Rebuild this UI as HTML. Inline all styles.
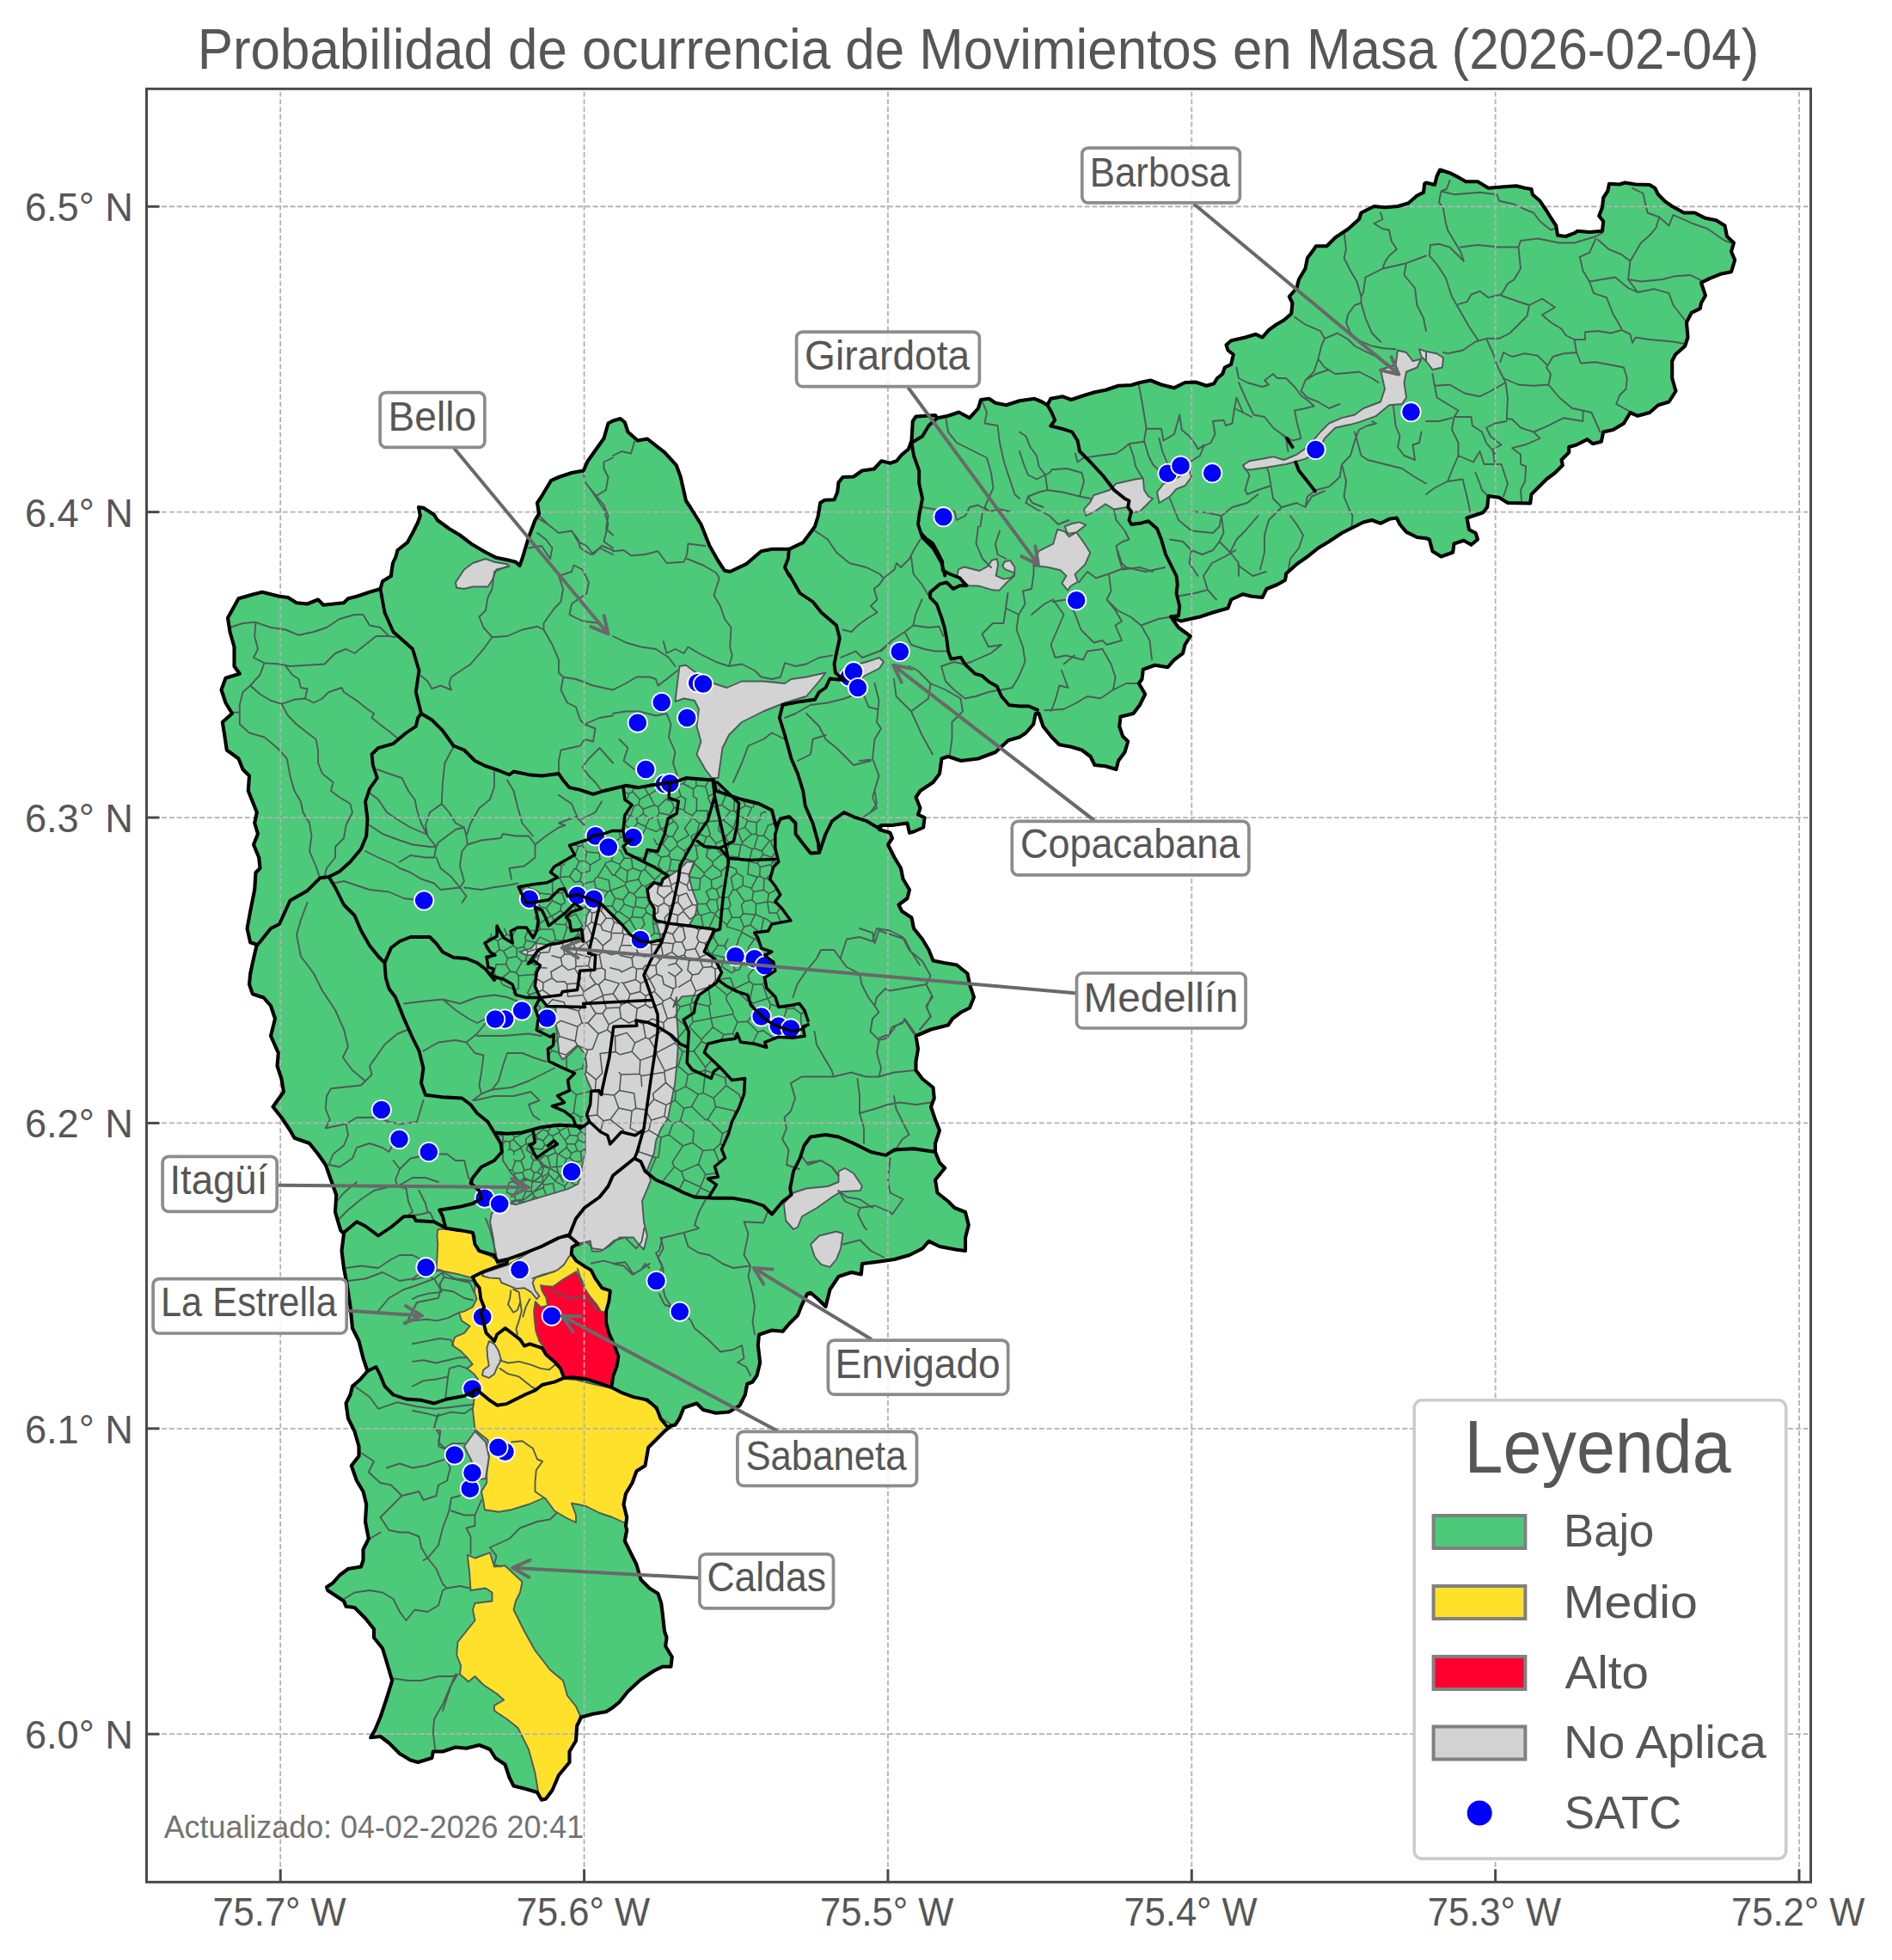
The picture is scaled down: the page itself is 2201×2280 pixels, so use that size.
<!DOCTYPE html><html><head><meta charset="utf-8"><title>Mapa</title><style>html,body{margin:0;padding:0;background:#fff}svg{display:block}text{font-family:"Liberation Sans",sans-serif;fill:#565656}</style></head><body>
<svg width="2201" height="2280" viewBox="0 0 2201 2280">
<rect width="2201" height="2280" fill="#fff"/>
<g stroke-linejoin="round" stroke-linecap="round">
<path d="M455.5,665.0 L457.0,655.0 L460.5,647.5 L462.5,640.0 L473.8,631.2 L480.0,620.0 L486.2,607.5 L488.8,600.0 L487.0,590.0 L492.5,590.8 L505.0,598.8 L508.8,605.0 L522.5,615.0 L535.0,622.5 L550.0,633.8 L565.0,642.5 L577.5,648.8 L590.0,651.2 L600.0,653.8 L604.5,658.0 L607.5,650.0 L615.0,625.0 L622.5,605.0 L627.0,597.5 L625.0,585.0 L630.0,577.5 L641.2,558.8 L650.0,555.0 L665.0,550.0 L678.8,547.5 L683.8,536.2 L702.5,510.0 L707.5,492.5 L713.0,489.5 L721.8,487.0 L726.8,491.2 L730.5,502.5 L741.8,512.5 L753.0,510.5 L773.0,526.2 L786.8,541.2 L791.8,555.0 L798.0,582.5 L803.0,590.0 L815.5,610.0 L825.5,635.0 L835.5,652.5 L843.0,663.8 L849.2,665.0 L868.0,656.2 L885.5,641.2 L898.0,638.8 L918.0,638.8 L934.2,631.2 L948.0,612.5 L951.8,600.0 L954.2,585.0 L959.2,581.8 L970.5,581.2 L974.2,572.5 L975.5,561.2 L980.5,555.0 L993.0,554.5 L1003.0,547.5 L1016.8,545.5 L1025.5,536.2 L1035.5,538.8 L1043.0,536.2 L1049.2,528.8 L1056.8,522.5 L1060.5,512.5 L1061.8,490.0 L1065.5,484.5 L1088.0,483.0 L1090.5,486.2 L1103.0,483.8 L1115.5,479.5 L1128.0,486.2 L1138.0,475.0 L1141.0,465.0 L1150.5,463.8 L1158.0,468.8 L1170.5,471.2 L1186.0,466.2 L1203.5,463.8 L1212.2,467.5 L1218.5,471.2 L1222.2,463.8 L1236.0,461.2 L1246.0,465.0 L1261.0,460.0 L1273.5,456.2 L1286.0,453.8 L1301.0,448.8 L1316.0,448.0 L1326.0,445.0 L1338.5,442.5 L1351.0,447.5 L1366.0,451.2 L1378.5,445.0 L1391.0,444.5 L1403.5,448.8 L1412.2,446.2 L1416.0,440.0 L1422.2,435.0 L1424.8,427.5 L1432.2,423.8 L1434.8,412.5 L1428.5,407.5 L1426.5,401.2 L1432.2,396.2 L1448.5,392.5 L1461.0,388.8 L1468.5,392.5 L1476.0,383.8 L1484.8,377.5 L1493.5,372.5 L1502.2,365.0 L1503.5,352.5 L1499.8,345.0 L1508.5,335.0 L1511.0,325.0 L1518.5,312.5 L1521.0,300.0 L1528.5,290.0 L1531.0,286.2 L1543.5,286.2 L1553.5,276.2 L1568.5,266.2 L1581.0,255.0 L1583.5,247.5 L1598.5,240.0 L1611.0,241.2 L1626.0,240.0 L1638.5,236.2 L1648.5,227.5 L1656.0,223.8 L1657.2,213.8 L1659.0,212.5 L1669.0,215.0 L1671.5,205.0 L1675.2,197.5 L1686.5,201.2 L1696.5,206.2 L1705.2,211.2 L1719.0,211.2 L1731.5,218.8 L1746.5,217.5 L1764.0,216.2 L1774.0,218.8 L1781.5,220.0 L1782.8,226.2 L1791.5,233.8 L1799.0,245.0 L1805.2,255.0 L1810.2,262.5 L1812.0,273.8 L1821.5,275.0 L1831.5,271.2 L1835.2,268.8 L1849.0,270.0 L1864.0,268.8 L1865.2,257.5 L1860.2,251.2 L1864.0,241.2 L1865.2,230.0 L1870.2,222.5 L1872.0,213.8 L1884.0,214.5 L1890.2,212.5 L1902.8,214.5 L1919.0,215.0 L1925.2,218.8 L1929.0,226.2 L1936.5,233.8 L1945.2,240.0 L1959.0,247.5 L1971.5,247.5 L1984.0,253.8 L1996.5,256.2 L2006.5,262.5 L2009.0,275.0 L2017.0,282.5 L2014.0,292.5 L2018.2,302.5 L2014.0,316.2 L2001.5,318.8 L1989.0,323.8 L1979.0,328.8 L1984.0,343.8 L1979.0,352.5 L1977.8,358.8 L1967.8,363.8 L1962.0,375.0 L1963.5,392.5 L1960.2,402.5 L1949.0,412.5 L1945.2,420.0 L1945.2,440.0 L1949.5,455.0 L1941.5,467.5 L1929.0,471.2 L1919.0,480.0 L1905.2,483.8 L1896.5,480.0 L1889.0,492.5 L1876.5,500.0 L1865.2,502.5 L1862.8,513.8 L1852.8,516.2 L1846.5,511.2 L1834.0,517.5 L1825.2,520.0 L1825.2,526.2 L1816.5,535.0 L1817.8,541.2 L1809.0,550.0 L1799.0,557.5 L1789.0,567.5 L1781.5,575.0 L1780.2,585.5 L1754.0,585.0 L1744.0,578.8 L1731.5,577.0 L1730.2,590.0 L1725.2,596.2 L1706.5,602.5 L1709.0,616.2 L1716.5,620.0 L1719.0,627.5 L1711.5,633.8 L1702.8,628.8 L1691.5,632.5 L1690.2,642.5 L1676.5,647.5 L1666.5,641.2 L1662.8,627.5 L1659.0,626.2 L1648.5,625.0 L1636.0,618.8 L1628.5,610.0 L1624.8,602.5 L1616.0,603.8 L1606.0,608.8 L1596.0,605.0 L1586.0,607.5 L1576.0,612.5 L1561.0,620.0 L1546.0,630.0 L1533.5,637.5 L1521.0,647.5 L1508.5,656.2 L1496.0,667.5 L1496.0,670.0 L1494.8,675.0 L1486.0,680.0 L1473.5,685.0 L1468.5,695.0 L1456.0,693.8 L1446.0,691.2 L1432.2,697.5 L1428.5,707.5 L1411.0,712.5 L1396.0,717.5 L1373.5,722.5 L1362.2,717.5 L1371.0,730.0 L1384.8,740.0 L1378.5,750.0 L1376.0,760.0 L1366.0,767.5 L1358.5,776.2 L1343.5,773.8 L1329.8,778.8 L1328.5,790.0 L1324.8,795.0 L1332.2,807.5 L1326.0,820.0 L1318.5,830.0 L1303.5,833.8 L1302.2,845.0 L1306.0,856.2 L1312.2,862.5 L1308.5,875.0 L1301.0,885.0 L1298.5,895.0 L1286.0,891.2 L1273.5,890.0 L1268.5,880.0 L1258.5,872.5 L1246.0,868.8 L1232.2,866.2 L1223.5,857.5 L1213.5,845.0 L1208.5,830.0 L1204.8,830.0 L1202.2,842.5 L1193.5,852.5 L1186.0,857.5 L1173.0,861.2 L1158.0,875.0 L1138.0,882.5 L1118.0,885.0 L1103.0,880.0 L1095.5,882.5 L1093.0,900.0 L1085.5,910.0 L1070.5,920.0 L1065.5,927.5 L1070.5,940.0 L1068.0,947.5 L1075.5,951.2 L1074.2,962.5 L1063.0,967.5 L1058.0,968.8 L1055.5,957.5 L1038.0,960.0 L1025.5,960.0 L1023.0,965.0 L1035.5,968.8 L1038.0,975.0 L1033.0,982.5 L1040.5,997.5 L1048.0,1010.0 L1050.5,1022.5 L1058.0,1035.0 L1055.5,1045.0 L1045.5,1052.5 L1049.2,1060.0 L1060.5,1067.5 L1063.0,1080.0 L1073.0,1092.5 L1080.5,1105.0 L1085.5,1117.5 L1098.0,1120.0 L1113.0,1122.5 L1125.5,1132.5 L1128.0,1145.0 L1133.0,1160.0 L1133.0,1160.0 L1128.0,1172.5 L1118.0,1177.5 L1108.0,1185.0 L1103.0,1192.5 L1083.0,1197.5 L1065.5,1205.0 L1068.0,1220.0 L1065.5,1235.0 L1065.5,1245.0 L1073.0,1255.0 L1085.5,1265.0 L1086.8,1277.5 L1083.0,1287.5 L1088.0,1302.5 L1093.0,1315.0 L1088.0,1330.0 L1088.0,1340.0 L1093.0,1352.5 L1099.2,1358.8 L1088.0,1372.5 L1090.5,1387.5 L1103.0,1397.5 L1110.5,1405.0 L1123.0,1410.0 L1126.8,1425.0 L1123.0,1440.0 L1123.0,1455.0 L1113.0,1453.8 L1093.0,1450.0 L1080.5,1443.8 L1073.0,1452.5 L1058.0,1460.0 L1040.5,1465.0 L1023.0,1467.5 L1003.0,1470.0 L1001.8,1482.5 L990.5,1480.0 L975.5,1485.0 L965.5,1500.0 L960.5,1520.0 L953.0,1512.5 L943.0,1503.8 L939.2,1505.0 L933.0,1517.5 L928.0,1530.0 L918.0,1540.0 L910.5,1548.8 L898.0,1547.5 L883.0,1552.5 L881.8,1565.0 L884.2,1585.0 L880.5,1600.0 L875.5,1607.5 L869.2,1610.0 L866.8,1622.5 L860.5,1635.0 L848.0,1642.5 L833.0,1643.8 L818.0,1640.0 L810.5,1632.5 L795.5,1637.5 L790.5,1650.0 L790.5,1650.0 L785.5,1657.5 L780.5,1658.8 L773.0,1665.0 L763.0,1675.0 L754.2,1683.8 L750.5,1705.0 L740.5,1711.2 L735.5,1725.0 L728.0,1737.5 L725.5,1750.0 L729.2,1765.0 L728.0,1775.0 L729.2,1780.0 L726.8,1792.5 L733.0,1805.0 L740.5,1820.0 L745.5,1837.5 L755.5,1847.5 L765.5,1853.8 L769.2,1865.0 L770.5,1875.0 L773.0,1897.5 L775.5,1905.0 L774.2,1915.0 L781.8,1927.5 L780.5,1938.8 L770.5,1938.8 L760.5,1943.8 L745.5,1953.8 L730.5,1967.5 L720.5,1980.0 L713.0,1986.2 L713.0,1986.2 L705.0,1991.2 L690.0,1993.8 L676.2,1997.5 L671.2,2007.5 L670.0,2025.0 L662.5,2037.5 L662.5,2050.0 L650.0,2065.0 L642.5,2082.5 L635.0,2092.5 L630.0,2093.8 L625.0,2085.0 L612.5,2081.2 L597.5,2077.5 L592.5,2067.5 L587.5,2052.5 L576.2,2045.0 L570.0,2035.0 L557.5,2030.0 L542.5,2033.8 L530.0,2032.5 L515.0,2037.5 L503.8,2037.5 L502.5,2045.0 L486.2,2050.0 L477.5,2047.5 L465.0,2040.0 L452.5,2027.5 L442.5,2020.0 L431.2,2021.2 L436.2,2012.5 L442.5,1997.5 L450.0,1975.0 L456.2,1955.0 L448.8,1930.0 L445.0,1917.5 L435.0,1905.0 L435.0,1895.0 L425.0,1882.5 L412.5,1870.0 L402.5,1868.8 L400.0,1862.5 L381.2,1850.0 L380.0,1846.2 L387.5,1841.2 L395.0,1832.5 L405.0,1825.0 L420.0,1822.5 L422.5,1815.0 L422.5,1802.5 L428.8,1790.0 L425.0,1770.0 L426.2,1750.0 L422.5,1735.0 L415.0,1722.5 L408.8,1705.0 L417.5,1693.8 L417.5,1682.5 L412.5,1665.0 L405.0,1650.0 L405.0,1650.0 L402.5,1632.5 L407.5,1622.5 L410.0,1612.5 L418.8,1605.0 L427.5,1595.0 L422.5,1580.0 L417.5,1560.0 L410.0,1545.0 L407.5,1520.0 L403.8,1495.0 L400.0,1475.0 L397.5,1455.0 L400.0,1435.0 L396.2,1431.2 L390.0,1410.0 L391.2,1390.0 L385.0,1372.5 L378.8,1355.0 L370.0,1342.5 L360.0,1330.0 L342.5,1323.8 L337.5,1315.0 L327.5,1300.0 L317.5,1287.5 L330.0,1270.0 L327.5,1255.0 L322.5,1240.0 L323.8,1225.0 L315.0,1205.0 L320.0,1185.0 L315.0,1170.0 L306.2,1160.0 L305.0,1160.0 L293.8,1156.2 L290.0,1145.0 L291.2,1132.5 L295.0,1115.0 L298.8,1098.8 L291.2,1096.2 L287.5,1080.0 L291.2,1060.0 L296.2,1035.0 L297.5,1015.0 L302.5,1010.0 L301.2,997.5 L295.0,982.5 L300.0,970.0 L296.2,957.5 L298.8,945.0 L293.8,932.5 L288.8,920.0 L290.0,902.5 L282.5,895.0 L277.5,882.5 L263.8,872.5 L261.2,855.0 L258.8,840.0 L270.0,830.0 L262.5,817.5 L257.5,802.5 L262.5,788.8 L278.8,783.8 L272.5,775.0 L272.5,752.5 L267.5,735.0 L265.0,718.8 L277.5,696.2 L295.0,691.2 L305.0,688.8 L325.0,693.8 L335.0,695.0 L345.0,701.2 L357.5,702.5 L370.0,697.5 L376.2,703.8 L400.0,701.2 L405.0,696.2 L415.0,693.8 L430.0,688.8 L442.5,685.0 L445.0,676.2 L455.0,670.0Z" fill="#4dc97a" stroke="none"/>
<clipPath id="mapclip"><path d="M455.5,665.0 L457.0,655.0 L460.5,647.5 L462.5,640.0 L473.8,631.2 L480.0,620.0 L486.2,607.5 L488.8,600.0 L487.0,590.0 L492.5,590.8 L505.0,598.8 L508.8,605.0 L522.5,615.0 L535.0,622.5 L550.0,633.8 L565.0,642.5 L577.5,648.8 L590.0,651.2 L600.0,653.8 L604.5,658.0 L607.5,650.0 L615.0,625.0 L622.5,605.0 L627.0,597.5 L625.0,585.0 L630.0,577.5 L641.2,558.8 L650.0,555.0 L665.0,550.0 L678.8,547.5 L683.8,536.2 L702.5,510.0 L707.5,492.5 L713.0,489.5 L721.8,487.0 L726.8,491.2 L730.5,502.5 L741.8,512.5 L753.0,510.5 L773.0,526.2 L786.8,541.2 L791.8,555.0 L798.0,582.5 L803.0,590.0 L815.5,610.0 L825.5,635.0 L835.5,652.5 L843.0,663.8 L849.2,665.0 L868.0,656.2 L885.5,641.2 L898.0,638.8 L918.0,638.8 L934.2,631.2 L948.0,612.5 L951.8,600.0 L954.2,585.0 L959.2,581.8 L970.5,581.2 L974.2,572.5 L975.5,561.2 L980.5,555.0 L993.0,554.5 L1003.0,547.5 L1016.8,545.5 L1025.5,536.2 L1035.5,538.8 L1043.0,536.2 L1049.2,528.8 L1056.8,522.5 L1060.5,512.5 L1061.8,490.0 L1065.5,484.5 L1088.0,483.0 L1090.5,486.2 L1103.0,483.8 L1115.5,479.5 L1128.0,486.2 L1138.0,475.0 L1141.0,465.0 L1150.5,463.8 L1158.0,468.8 L1170.5,471.2 L1186.0,466.2 L1203.5,463.8 L1212.2,467.5 L1218.5,471.2 L1222.2,463.8 L1236.0,461.2 L1246.0,465.0 L1261.0,460.0 L1273.5,456.2 L1286.0,453.8 L1301.0,448.8 L1316.0,448.0 L1326.0,445.0 L1338.5,442.5 L1351.0,447.5 L1366.0,451.2 L1378.5,445.0 L1391.0,444.5 L1403.5,448.8 L1412.2,446.2 L1416.0,440.0 L1422.2,435.0 L1424.8,427.5 L1432.2,423.8 L1434.8,412.5 L1428.5,407.5 L1426.5,401.2 L1432.2,396.2 L1448.5,392.5 L1461.0,388.8 L1468.5,392.5 L1476.0,383.8 L1484.8,377.5 L1493.5,372.5 L1502.2,365.0 L1503.5,352.5 L1499.8,345.0 L1508.5,335.0 L1511.0,325.0 L1518.5,312.5 L1521.0,300.0 L1528.5,290.0 L1531.0,286.2 L1543.5,286.2 L1553.5,276.2 L1568.5,266.2 L1581.0,255.0 L1583.5,247.5 L1598.5,240.0 L1611.0,241.2 L1626.0,240.0 L1638.5,236.2 L1648.5,227.5 L1656.0,223.8 L1657.2,213.8 L1659.0,212.5 L1669.0,215.0 L1671.5,205.0 L1675.2,197.5 L1686.5,201.2 L1696.5,206.2 L1705.2,211.2 L1719.0,211.2 L1731.5,218.8 L1746.5,217.5 L1764.0,216.2 L1774.0,218.8 L1781.5,220.0 L1782.8,226.2 L1791.5,233.8 L1799.0,245.0 L1805.2,255.0 L1810.2,262.5 L1812.0,273.8 L1821.5,275.0 L1831.5,271.2 L1835.2,268.8 L1849.0,270.0 L1864.0,268.8 L1865.2,257.5 L1860.2,251.2 L1864.0,241.2 L1865.2,230.0 L1870.2,222.5 L1872.0,213.8 L1884.0,214.5 L1890.2,212.5 L1902.8,214.5 L1919.0,215.0 L1925.2,218.8 L1929.0,226.2 L1936.5,233.8 L1945.2,240.0 L1959.0,247.5 L1971.5,247.5 L1984.0,253.8 L1996.5,256.2 L2006.5,262.5 L2009.0,275.0 L2017.0,282.5 L2014.0,292.5 L2018.2,302.5 L2014.0,316.2 L2001.5,318.8 L1989.0,323.8 L1979.0,328.8 L1984.0,343.8 L1979.0,352.5 L1977.8,358.8 L1967.8,363.8 L1962.0,375.0 L1963.5,392.5 L1960.2,402.5 L1949.0,412.5 L1945.2,420.0 L1945.2,440.0 L1949.5,455.0 L1941.5,467.5 L1929.0,471.2 L1919.0,480.0 L1905.2,483.8 L1896.5,480.0 L1889.0,492.5 L1876.5,500.0 L1865.2,502.5 L1862.8,513.8 L1852.8,516.2 L1846.5,511.2 L1834.0,517.5 L1825.2,520.0 L1825.2,526.2 L1816.5,535.0 L1817.8,541.2 L1809.0,550.0 L1799.0,557.5 L1789.0,567.5 L1781.5,575.0 L1780.2,585.5 L1754.0,585.0 L1744.0,578.8 L1731.5,577.0 L1730.2,590.0 L1725.2,596.2 L1706.5,602.5 L1709.0,616.2 L1716.5,620.0 L1719.0,627.5 L1711.5,633.8 L1702.8,628.8 L1691.5,632.5 L1690.2,642.5 L1676.5,647.5 L1666.5,641.2 L1662.8,627.5 L1659.0,626.2 L1648.5,625.0 L1636.0,618.8 L1628.5,610.0 L1624.8,602.5 L1616.0,603.8 L1606.0,608.8 L1596.0,605.0 L1586.0,607.5 L1576.0,612.5 L1561.0,620.0 L1546.0,630.0 L1533.5,637.5 L1521.0,647.5 L1508.5,656.2 L1496.0,667.5 L1496.0,670.0 L1494.8,675.0 L1486.0,680.0 L1473.5,685.0 L1468.5,695.0 L1456.0,693.8 L1446.0,691.2 L1432.2,697.5 L1428.5,707.5 L1411.0,712.5 L1396.0,717.5 L1373.5,722.5 L1362.2,717.5 L1371.0,730.0 L1384.8,740.0 L1378.5,750.0 L1376.0,760.0 L1366.0,767.5 L1358.5,776.2 L1343.5,773.8 L1329.8,778.8 L1328.5,790.0 L1324.8,795.0 L1332.2,807.5 L1326.0,820.0 L1318.5,830.0 L1303.5,833.8 L1302.2,845.0 L1306.0,856.2 L1312.2,862.5 L1308.5,875.0 L1301.0,885.0 L1298.5,895.0 L1286.0,891.2 L1273.5,890.0 L1268.5,880.0 L1258.5,872.5 L1246.0,868.8 L1232.2,866.2 L1223.5,857.5 L1213.5,845.0 L1208.5,830.0 L1204.8,830.0 L1202.2,842.5 L1193.5,852.5 L1186.0,857.5 L1173.0,861.2 L1158.0,875.0 L1138.0,882.5 L1118.0,885.0 L1103.0,880.0 L1095.5,882.5 L1093.0,900.0 L1085.5,910.0 L1070.5,920.0 L1065.5,927.5 L1070.5,940.0 L1068.0,947.5 L1075.5,951.2 L1074.2,962.5 L1063.0,967.5 L1058.0,968.8 L1055.5,957.5 L1038.0,960.0 L1025.5,960.0 L1023.0,965.0 L1035.5,968.8 L1038.0,975.0 L1033.0,982.5 L1040.5,997.5 L1048.0,1010.0 L1050.5,1022.5 L1058.0,1035.0 L1055.5,1045.0 L1045.5,1052.5 L1049.2,1060.0 L1060.5,1067.5 L1063.0,1080.0 L1073.0,1092.5 L1080.5,1105.0 L1085.5,1117.5 L1098.0,1120.0 L1113.0,1122.5 L1125.5,1132.5 L1128.0,1145.0 L1133.0,1160.0 L1133.0,1160.0 L1128.0,1172.5 L1118.0,1177.5 L1108.0,1185.0 L1103.0,1192.5 L1083.0,1197.5 L1065.5,1205.0 L1068.0,1220.0 L1065.5,1235.0 L1065.5,1245.0 L1073.0,1255.0 L1085.5,1265.0 L1086.8,1277.5 L1083.0,1287.5 L1088.0,1302.5 L1093.0,1315.0 L1088.0,1330.0 L1088.0,1340.0 L1093.0,1352.5 L1099.2,1358.8 L1088.0,1372.5 L1090.5,1387.5 L1103.0,1397.5 L1110.5,1405.0 L1123.0,1410.0 L1126.8,1425.0 L1123.0,1440.0 L1123.0,1455.0 L1113.0,1453.8 L1093.0,1450.0 L1080.5,1443.8 L1073.0,1452.5 L1058.0,1460.0 L1040.5,1465.0 L1023.0,1467.5 L1003.0,1470.0 L1001.8,1482.5 L990.5,1480.0 L975.5,1485.0 L965.5,1500.0 L960.5,1520.0 L953.0,1512.5 L943.0,1503.8 L939.2,1505.0 L933.0,1517.5 L928.0,1530.0 L918.0,1540.0 L910.5,1548.8 L898.0,1547.5 L883.0,1552.5 L881.8,1565.0 L884.2,1585.0 L880.5,1600.0 L875.5,1607.5 L869.2,1610.0 L866.8,1622.5 L860.5,1635.0 L848.0,1642.5 L833.0,1643.8 L818.0,1640.0 L810.5,1632.5 L795.5,1637.5 L790.5,1650.0 L790.5,1650.0 L785.5,1657.5 L780.5,1658.8 L773.0,1665.0 L763.0,1675.0 L754.2,1683.8 L750.5,1705.0 L740.5,1711.2 L735.5,1725.0 L728.0,1737.5 L725.5,1750.0 L729.2,1765.0 L728.0,1775.0 L729.2,1780.0 L726.8,1792.5 L733.0,1805.0 L740.5,1820.0 L745.5,1837.5 L755.5,1847.5 L765.5,1853.8 L769.2,1865.0 L770.5,1875.0 L773.0,1897.5 L775.5,1905.0 L774.2,1915.0 L781.8,1927.5 L780.5,1938.8 L770.5,1938.8 L760.5,1943.8 L745.5,1953.8 L730.5,1967.5 L720.5,1980.0 L713.0,1986.2 L713.0,1986.2 L705.0,1991.2 L690.0,1993.8 L676.2,1997.5 L671.2,2007.5 L670.0,2025.0 L662.5,2037.5 L662.5,2050.0 L650.0,2065.0 L642.5,2082.5 L635.0,2092.5 L630.0,2093.8 L625.0,2085.0 L612.5,2081.2 L597.5,2077.5 L592.5,2067.5 L587.5,2052.5 L576.2,2045.0 L570.0,2035.0 L557.5,2030.0 L542.5,2033.8 L530.0,2032.5 L515.0,2037.5 L503.8,2037.5 L502.5,2045.0 L486.2,2050.0 L477.5,2047.5 L465.0,2040.0 L452.5,2027.5 L442.5,2020.0 L431.2,2021.2 L436.2,2012.5 L442.5,1997.5 L450.0,1975.0 L456.2,1955.0 L448.8,1930.0 L445.0,1917.5 L435.0,1905.0 L435.0,1895.0 L425.0,1882.5 L412.5,1870.0 L402.5,1868.8 L400.0,1862.5 L381.2,1850.0 L380.0,1846.2 L387.5,1841.2 L395.0,1832.5 L405.0,1825.0 L420.0,1822.5 L422.5,1815.0 L422.5,1802.5 L428.8,1790.0 L425.0,1770.0 L426.2,1750.0 L422.5,1735.0 L415.0,1722.5 L408.8,1705.0 L417.5,1693.8 L417.5,1682.5 L412.5,1665.0 L405.0,1650.0 L405.0,1650.0 L402.5,1632.5 L407.5,1622.5 L410.0,1612.5 L418.8,1605.0 L427.5,1595.0 L422.5,1580.0 L417.5,1560.0 L410.0,1545.0 L407.5,1520.0 L403.8,1495.0 L400.0,1475.0 L397.5,1455.0 L400.0,1435.0 L396.2,1431.2 L390.0,1410.0 L391.2,1390.0 L385.0,1372.5 L378.8,1355.0 L370.0,1342.5 L360.0,1330.0 L342.5,1323.8 L337.5,1315.0 L327.5,1300.0 L317.5,1287.5 L330.0,1270.0 L327.5,1255.0 L322.5,1240.0 L323.8,1225.0 L315.0,1205.0 L320.0,1185.0 L315.0,1170.0 L306.2,1160.0 L305.0,1160.0 L293.8,1156.2 L290.0,1145.0 L291.2,1132.5 L295.0,1115.0 L298.8,1098.8 L291.2,1096.2 L287.5,1080.0 L291.2,1060.0 L296.2,1035.0 L297.5,1015.0 L302.5,1010.0 L301.2,997.5 L295.0,982.5 L300.0,970.0 L296.2,957.5 L298.8,945.0 L293.8,932.5 L288.8,920.0 L290.0,902.5 L282.5,895.0 L277.5,882.5 L263.8,872.5 L261.2,855.0 L258.8,840.0 L270.0,830.0 L262.5,817.5 L257.5,802.5 L262.5,788.8 L278.8,783.8 L272.5,775.0 L272.5,752.5 L267.5,735.0 L265.0,718.8 L277.5,696.2 L295.0,691.2 L305.0,688.8 L325.0,693.8 L335.0,695.0 L345.0,701.2 L357.5,702.5 L370.0,697.5 L376.2,703.8 L400.0,701.2 L405.0,696.2 L415.0,693.8 L430.0,688.8 L442.5,685.0 L445.0,676.2 L455.0,670.0Z"/></clipPath>
<g clip-path="url(#mapclip)">
<path d="M552.5,1620.0 L555.0,1617.5 L565.0,1625.0 L577.5,1633.8 L587.5,1633.8 L600.0,1627.5 L615.0,1620.0 L630.0,1612.5 L645.0,1607.5 L655.0,1603.8 L670.0,1605.0 L690.0,1610.0 L712.5,1615.0 L730.0,1622.5 L747.5,1627.5 L760.0,1635.0 L770.0,1650.0 L785.0,1660.0 L770.0,1670.0 L757.5,1682.5 L752.5,1697.5 L750.0,1707.5 L740.0,1715.0 L735.0,1730.0 L730.0,1742.5 L727.5,1760.0 L728.8,1772.5 L712.5,1765.0 L697.5,1760.0 L682.5,1752.5 L672.5,1750.0 L665.0,1748.8 L670.0,1762.5 L670.0,1771.2 L657.5,1765.0 L645.0,1757.5 L635.0,1743.8 L632.5,1742.5 L615.0,1750.0 L595.0,1756.2 L580.0,1758.8 L563.8,1756.2 L562.5,1747.5 L560.0,1735.0 L566.2,1725.0 L566.2,1715.0 L568.8,1695.0 L567.5,1675.0 L555.0,1665.0 L552.5,1662.5 L550.0,1640.0Z" fill="#ffe12b" stroke="#4f5a58" stroke-width="1.9"/>
<path d="M543.8,1808.8 L552.5,1812.5 L570.0,1806.2 L575.0,1822.5 L587.5,1821.2 L607.5,1840.0 L605.0,1852.5 L600.0,1862.5 L597.5,1872.5 L610.0,1897.5 L622.5,1920.0 L640.0,1942.5 L655.0,1955.0 L660.0,1972.5 L670.0,1985.0 L675.0,1996.2 L671.2,2007.5 L670.0,2025.0 L662.5,2037.5 L662.5,2050.0 L650.0,2065.0 L642.5,2082.5 L635.0,2092.5 L630.0,2093.8 L626.2,2085.0 L622.5,2062.5 L615.0,2035.0 L602.5,2010.0 L590.0,2000.0 L575.0,1990.0 L575.0,1983.8 L586.2,1977.5 L577.5,1970.0 L562.5,1960.0 L552.5,1950.0 L545.0,1956.2 L535.0,1947.5 L536.2,1937.5 L531.2,1925.0 L532.5,1910.0 L542.5,1897.5 L552.5,1885.0 L550.0,1872.5 L552.5,1865.0 L572.5,1862.5 L572.5,1852.5 L565.0,1847.5 L547.5,1850.0 L546.2,1830.0Z" fill="#ffe12b" stroke="#4f5a58" stroke-width="1.9"/>
<path d="M509.3,1430.1 L519.6,1429.3 L532.3,1431.7 L548.2,1432.5 L552.9,1438.1 L552.1,1447.6 L556.1,1455.5 L568.8,1460.3 L576.7,1465.0 L579.1,1469.8 L589.4,1468.2 L575.1,1474.5 L562.4,1479.3 L549.8,1485.6 L545.0,1485.6 L533.9,1482.4 L518.1,1479.3 L507.7,1476.1 L508.5,1463.4 L509.3,1447.6 L508.5,1438.1Z" fill="#ffe12b" stroke="#4f5a58" stroke-width="1.9"/>
<path d="M549.8,1485.6 L562.4,1479.3 L575.1,1474.5 L589.4,1469.8 L591.0,1465.0 L603.7,1460.3 L619.5,1453.9 L635.4,1446.0 L648.1,1439.6 L662.3,1438.1 L672.6,1446.8 L665.5,1450.7 L664.7,1458.7 L670.3,1466.6 L679.8,1472.9 L687.7,1477.7 L692.5,1487.2 L700.4,1498.3 L709.9,1501.5 L708.3,1514.2 L705.1,1525.3 L705.1,1537.9 L708.3,1550.6 L714.7,1564.9 L719.4,1577.6 L717.8,1588.7 L713.1,1601.4 L711.5,1614.0 L698.8,1609.3 L682.9,1604.5 L667.1,1602.2 L656.0,1602.2 L652.0,1591.9 L644.9,1583.9 L635.4,1576.0 L630.6,1568.1 L616.4,1563.3 L610.0,1565.7 L605.3,1558.6 L597.3,1552.2 L587.8,1545.1 L578.3,1552.2 L575.1,1560.1 L565.6,1550.6 L562.4,1537.9 L559.3,1526.8 L563.2,1520.5 L559.3,1511.0 L557.7,1498.3 L552.9,1492.0Z" fill="#ffe12b" stroke="#4f5a58" stroke-width="1.9"/>
<path d="M552.9,1492.0 L552.1,1503.1 L554.5,1511.0 L549.8,1520.5 L540.3,1525.3 L533.9,1526.8 L537.1,1536.4 L546.6,1542.7 L540.3,1550.6 L529.2,1555.4 L526.0,1564.9 L535.5,1571.2 L543.4,1579.2 L549.8,1587.1 L543.4,1591.9 L551.3,1598.2 L556.1,1604.5 L551.3,1617.2 L555.3,1615.6 L559.3,1620.4 L568.8,1628.3 L578.3,1634.7 L589.4,1633.1 L598.9,1628.3 L611.6,1622.0 L622.7,1617.2 L630.6,1610.9 L644.9,1607.7 L656.0,1602.9 L652.0,1591.9 L644.9,1583.9 L635.4,1576.0 L630.6,1568.1 L616.4,1563.3 L610.0,1565.7 L605.3,1558.6 L597.3,1552.2 L587.8,1545.1 L578.3,1552.2 L575.1,1560.1 L565.6,1550.6 L562.4,1537.9 L559.3,1526.8 L563.2,1520.5 L559.3,1511.0 L557.7,1498.3Z" fill="#ffe12b" stroke="#4f5a58" stroke-width="1.9"/>
<path d="M629.0,1495.1 L633.8,1495.9 L643.3,1496.7 L654.4,1488.8 L670.3,1479.3 L675.0,1488.8 L679.8,1498.3 L686.1,1507.8 L694.0,1517.3 L698.8,1525.3 L704.4,1526.8 L705.1,1537.9 L708.3,1550.6 L714.7,1564.9 L719.4,1577.6 L717.8,1588.7 L713.1,1601.4 L711.5,1613.3 L698.8,1609.3 L682.9,1604.5 L667.1,1602.2 L656.0,1602.2 L652.0,1591.9 L644.9,1583.9 L635.4,1576.0 L632.2,1566.5 L627.5,1560.1 L623.5,1549.0 L621.9,1536.4 L621.1,1525.3 L622.7,1514.2 L629.0,1520.5 L637.0,1518.9 L635.4,1509.4 L630.6,1501.5Z" fill="#ff0030" stroke="#4f5a58" stroke-width="1.9"/>
<path d="M1261.0,592.5 L1268.5,583.8 L1272.2,576.2 L1291.0,570.0 L1298.5,562.5 L1321.0,557.5 L1329.8,556.2 L1331.0,570.0 L1336.0,577.5 L1341.0,580.0 L1331.0,590.0 L1326.0,595.0 L1316.0,596.2 L1311.0,590.0 L1296.0,592.5 L1286.0,586.2 L1273.5,595.0 L1263.5,600.0Z" fill="#d3d3d3" stroke="#4f5a58" stroke-width="1.9"/>
<path d="M1346.0,572.5 L1353.5,562.5 L1361.0,561.2 L1371.0,555.0 L1383.5,547.5 L1386.0,555.0 L1378.5,565.0 L1368.5,568.8 L1361.0,577.5 L1348.5,585.0Z" fill="#d3d3d3" stroke="#4f5a58" stroke-width="1.9"/>
<path d="M1446.0,541.2 L1453.5,536.2 L1468.5,533.8 L1481.0,531.2 L1493.5,535.0 L1508.5,528.8 L1521.0,520.0 L1536.0,502.5 L1546.0,492.5 L1561.0,486.2 L1576.0,482.5 L1586.0,475.0 L1606.0,467.5 L1611.0,452.5 L1606.0,430.0 L1623.5,425.0 L1626.0,407.5 L1636.0,410.0 L1643.5,420.0 L1653.5,417.5 L1648.5,427.5 L1636.0,432.5 L1633.5,445.0 L1636.0,462.5 L1631.0,470.0 L1616.0,471.2 L1601.0,483.8 L1581.0,491.2 L1571.0,493.8 L1553.5,497.5 L1541.0,510.0 L1533.5,525.0 L1518.5,533.8 L1496.0,540.0 L1473.5,543.8 L1456.0,546.2 L1448.5,546.2Z" fill="#d3d3d3" stroke="#4f5a58" stroke-width="1.9"/>
<path d="M1659.0,408.8 L1671.5,411.2 L1679.0,416.2 L1677.8,427.5 L1666.5,430.0 L1659.0,420.0Z" fill="#d3d3d3" stroke="#4f5a58" stroke-width="1.9"/>
<path d="M1651.0,406.2 L1659.0,408.8 L1659.0,420.0 L1653.5,415.0Z" fill="#d3d3d3" stroke="#4f5a58" stroke-width="1.9"/>
<path d="M1203.2,658.1 L1208.2,641.2 L1225.2,632.7 L1230.2,615.8 L1238.7,618.4 L1243.8,624.3 L1252.2,619.2 L1260.7,631.0 L1268.3,642.9 L1262.4,656.4 L1250.5,668.2 L1253.9,676.7 L1245.5,681.8 L1242.1,686.8 L1235.3,678.4 L1240.4,669.9 L1233.6,663.2 L1218.4,659.8Z" fill="#d3d3d3" stroke="#4f5a58" stroke-width="1.9"/>
<path d="M1238.7,612.4 L1247.1,609.0 L1255.6,607.4 L1263.2,610.7 L1252.2,619.2 L1242.1,620.9Z" fill="#d3d3d3" stroke="#4f5a58" stroke-width="1.9"/>
<path d="M1113.3,669.7 L1115.2,662.1 L1121.6,659.5 L1139.5,664.0 L1149.7,658.3 L1153.5,651.9 L1159.9,650.0 L1161.1,657.0 L1158.6,669.7 L1167.5,673.6 L1175.2,672.3 L1180.3,668.5 L1180.3,659.5 L1175.2,651.9 L1168.8,653.2 L1166.2,658.3 L1168.8,662.1 L1179.0,665.9 L1180.3,669.7 L1171.3,677.4 L1162.4,686.9 L1154.8,686.3 L1139.5,681.8 L1126.7,681.2Z" fill="#d3d3d3" stroke="#4f5a58" stroke-width="1.9"/>
<path d="M790.5,775.0 L798.0,773.8 L813.0,785.0 L830.5,795.0 L845.5,800.0 L863.0,792.5 L888.0,792.5 L913.0,795.0 L920.5,790.0 L938.0,787.5 L960.5,782.5 L953.0,792.5 L938.0,810.0 L913.0,817.5 L888.0,827.5 L863.0,840.0 L848.0,855.0 L840.5,870.0 L838.0,887.5 L835.5,905.0 L828.0,905.0 L820.5,895.0 L810.5,877.5 L815.5,862.5 L810.5,845.0 L813.0,825.0 L808.0,815.0 L795.5,812.5 L785.5,816.2 L788.0,795.0Z" fill="#d3d3d3" stroke="#4f5a58" stroke-width="1.9"/>
<path d="M530.0,677.5 L540.0,662.5 L550.0,655.0 L565.0,650.0 L575.0,653.8 L590.0,656.2 L592.5,658.8 L577.5,662.5 L572.5,675.0 L567.5,682.5 L550.0,682.5 L540.0,685.0 L531.2,683.8Z" fill="#d3d3d3" stroke="#4f5a58" stroke-width="1.9"/>
<path d="M978.0,780.0 L988.0,775.0 L1008.0,770.0 L1023.0,765.0 L1028.0,770.0 L1023.0,777.5 L1008.0,785.0 L995.5,792.5 L983.0,792.5Z" fill="#d3d3d3" stroke="#4f5a58" stroke-width="1.9"/>
<path d="M787.2,1160.0 L783.2,1171.5 L793.2,1159.4 L813.3,1157.4 L833.4,1143.3 L839.5,1131.3 L831.4,1115.2 L819.3,1107.1 L830.4,1081.0 L801.3,1077.0 L809.3,1062.9 L811.3,1050.8 L805.3,1034.8 L801.3,1018.7 L807.3,1002.6 L799.2,1002.6 L791.2,1010.6 L779.1,1018.7 L771.1,1022.7 L769.1,1028.7 L761.0,1026.7 L753.0,1034.8 L755.0,1046.8 L761.0,1056.9 L761.0,1066.9 L763.1,1070.9 L769.1,1093.1 L757.0,1096.1 L745.0,1095.1 L732.9,1087.0 L724.9,1077.0 L714.8,1066.9 L704.8,1056.9 L698.7,1050.8 L688.7,1054.9 L682.6,1064.9 L680.6,1079.0 L672.6,1091.0 L650.5,1097.1 L638.4,1099.1 L622.3,1097.1 L618.3,1103.1 L604.2,1107.1 L612.3,1111.1 L626.3,1111.1 L620.3,1117.2 L628.4,1123.2 L624.3,1131.3 L622.3,1147.3 L628.4,1160.4 L636.4,1170.5 L646.4,1171.5 L646.4,1190.2 L648.5,1206.2 L650.5,1226.3 L654.5,1232.4 L660.5,1228.4 L672.6,1216.3 L680.6,1226.3 L682.6,1240.4 L680.6,1250.5 L688.7,1268.6 L687.7,1269.6 L686.7,1284.6 L682.6,1296.7 L685.7,1304.8 L680.6,1308.8 L680.6,1326.9 L680.6,1340.9 L672.6,1377.1 L660.5,1383.2 L640.4,1389.2 L620.3,1395.2 L600.2,1401.3 L590.2,1399.2 L572.1,1411.3 L570.1,1421.4 L574.1,1441.5 L576.1,1461.6 L578.1,1469.6 L590.2,1467.6 L592.2,1463.6 L606.2,1459.6 L620.3,1453.5 L636.4,1445.5 L648.5,1439.5 L659.5,1438.4 L668.6,1447.5 L672.6,1449.5 L680.6,1445.5 L686.7,1443.5 L688.7,1455.5 L698.7,1455.5 L708.8,1449.5 L720.8,1439.5 L736.9,1439.5 L743.0,1447.5 L749.0,1453.5 L753.0,1437.4 L749.0,1421.4 L747.0,1397.2 L753.0,1383.2 L757.0,1373.1 L753.0,1361.0 L761.0,1340.9 L763.1,1326.9 L769.1,1312.8 L777.1,1300.7 L781.1,1280.6 L785.2,1260.5 L787.2,1240.4 L789.2,1210.3 L787.2,1180.1Z" fill="#d3d3d3" stroke="#4f5a58" stroke-width="1.9"/>
<path d="M911.8,1400.0 L923.0,1387.5 L938.0,1382.5 L963.0,1380.0 L975.5,1375.0 L975.5,1362.5 L983.0,1358.8 L993.0,1365.0 L1003.0,1380.0 L1000.5,1385.0 L978.0,1386.2 L968.0,1392.5 L950.5,1405.0 L933.0,1415.0 L928.0,1427.5 L923.0,1430.0 L914.2,1420.0Z" fill="#d3d3d3" stroke="#4f5a58" stroke-width="1.9"/>
<path d="M943.0,1447.5 L953.0,1437.5 L973.0,1432.5 L980.5,1435.0 L978.0,1452.5 L973.0,1465.0 L965.5,1473.8 L955.5,1471.2 L948.0,1462.5Z" fill="#d3d3d3" stroke="#4f5a58" stroke-width="1.9"/>
<path d="M540.0,1682.5 L552.5,1665.0 L565.0,1677.5 L568.8,1695.0 L565.0,1720.0 L555.0,1721.2 L550.0,1702.5Z" fill="#d3d3d3" stroke="#4f5a58" stroke-width="1.9"/>
<path d="M562.4,1480.9 L591.0,1471.3 L619.5,1454.7 L648.1,1440.4 L662.3,1438.8 L671.9,1446.8 L665.5,1450.7 L664.7,1458.7 L660.8,1463.4 L656.0,1471.3 L648.1,1477.7 L635.4,1482.4 L622.7,1486.4 L619.5,1492.0 L622.7,1501.5 L627.5,1507.8 L624.3,1511.0 L617.9,1503.1 L610.0,1498.3 L600.5,1499.1 L591.0,1495.1 L583.1,1492.0 L581.5,1487.2 L568.8,1486.4 L560.9,1484.0Z" fill="#d3d3d3" stroke="#4f5a58" stroke-width="1.9"/>
<path d="M568.8,1560.1 L575.1,1563.3 L579.9,1571.2 L583.1,1582.3 L578.3,1590.3 L575.1,1598.2 L568.8,1602.9 L560.9,1599.8 L562.4,1593.4 L568.8,1588.7 L567.2,1579.2 L566.4,1568.1Z" fill="#d3d3d3" stroke="#4f5a58" stroke-width="1.9"/>
<path d="M820.8,1302.7L804.5,1287.3M795.7,1289.2L804.5,1287.3M795.7,1289.2L791.6,1303.9M807.2,1315.6L791.6,1303.9M719.8,1288.9L735.1,1292.3M719.8,1288.9L710.0,1302.3M735.1,1292.3L733.1,1312.4M710.0,1302.3L725.6,1314.6M701.9,1303.7L698.4,1316.5M701.9,1303.7L694.8,1297.0M694.8,1297.0L674.9,1299.2M674.9,1299.2L677.2,1311.1M719.8,1288.9L714.4,1274.1M710.0,1302.3L701.9,1303.7M714.4,1274.1L696.6,1272.2M696.6,1272.2L694.8,1297.0M662.0,1297.1L667.3,1294.6M667.3,1294.6L674.9,1299.2M708.4,1326.2L713.0,1327.4M725.6,1314.6L724.3,1317.2M748.3,1191.3L758.8,1185.1M748.3,1191.3L739.6,1186.9M750.7,1168.6L741.2,1173.2M750.7,1168.6L756.8,1172.5M741.2,1173.2L739.6,1186.9M857.2,1293.3L855.7,1292.5M861.6,1278.8L859.9,1273.1M843.6,1253.9L846.3,1250.9M843.6,1253.9L844.7,1262.9M859.9,1273.1L844.7,1262.9M820.6,1245.0L818.0,1271.4M820.6,1245.0L843.6,1253.9M818.0,1271.4L830.1,1277.3M844.7,1262.9L830.1,1277.3M671.7,1058.8L680.8,1055.3M688.0,1072.8L688.8,1062.3M688.0,1072.8L683.3,1076.8M680.8,1055.3L688.8,1062.3M683.3,1076.8L677.6,1077.1M669.9,1063.0L677.6,1077.1M688.0,1072.8L698.9,1076.3M699.2,1059.3L688.8,1062.3M699.2,1059.3L705.2,1067.9M698.9,1076.3L705.2,1067.9M795.0,911.5L799.3,905.4M795.0,911.5L806.6,918.1M810.1,914.1L806.6,918.1M810.1,914.1L809.5,906.0M805.6,1052.4L798.6,1038.9M805.6,1052.4L795.3,1058.7M795.3,1058.7L788.6,1049.3M798.6,1038.9L789.6,1042.3M789.6,1042.3L788.6,1049.3M706.9,974.8L697.8,974.3M697.8,974.3L696.2,971.2M837.7,1330.8L830.6,1337.2M837.7,1330.8L841.4,1332.5M830.6,1337.2L837.0,1352.4M739.9,1341.6L743.1,1339.8M733.1,1312.4L743.7,1317.6M743.1,1339.8L745.6,1323.5M735.1,1292.3L739.8,1289.2M714.4,1274.1L720.7,1268.4M739.8,1289.2L737.6,1271.7M720.7,1268.4L737.6,1271.7M750.7,1291.0L760.7,1278.7M750.7,1291.0L739.8,1289.2M759.6,1272.2L760.7,1278.7M743.1,1339.8L763.1,1346.8M755.4,1364.9L763.1,1346.8M692.3,1268.0L693.4,1255.9M692.3,1268.0L670.3,1273.5M693.4,1255.9L677.2,1242.6M670.3,1273.5L662.2,1266.4M677.2,1242.6L664.9,1246.8M696.6,1272.2L692.3,1268.0M720.1,1247.5L722.4,1249.9M700.7,1248.3L693.4,1255.9M720.7,1268.4L722.4,1249.9M667.3,1294.6L670.3,1273.5M683.7,1221.3L677.2,1242.6M683.7,1221.3L689.3,1220.2M700.7,1248.3L698.1,1225.5M689.3,1220.2L696.1,1202.5M698.1,1225.5L716.0,1223.5M696.1,1202.5L706.5,1197.9M706.5,1197.9L715.6,1205.5M715.6,1205.5L716.0,1223.5M721.4,1226.8L716.0,1223.5M638.0,1228.4L641.9,1222.2M659.5,1244.4L658.6,1227.1M641.9,1222.2L658.6,1227.1M683.7,1221.3L671.5,1215.9M658.6,1227.1L671.5,1215.9M879.0,1063.5L888.5,1068.2M879.0,1063.5L879.6,1051.6M879.6,1051.6L892.6,1048.9M889.7,1067.9L888.5,1068.2M895.0,1062.1L892.6,1048.9M934.3,1195.9L931.9,1195.9M936.5,1177.0L931.8,1179.2M931.9,1195.9L931.8,1179.2M878.3,1064.0L872.8,1076.0M878.3,1064.0L864.6,1062.8M864.6,1062.8L860.8,1067.3M860.8,1067.3L865.5,1078.2M872.8,1076.0L865.5,1078.2M845.6,1075.7L845.5,1077.9M845.6,1075.7L851.5,1067.1M851.5,1067.1L860.8,1067.3M845.5,1077.9L862.8,1083.4M865.5,1078.2L862.8,1083.4M908.5,1073.0L903.8,1061.8M889.7,1067.9L899.5,1074.6M895.0,1062.1L903.8,1061.8M806.4,926.4L806.6,918.1M795.0,911.5L789.9,912.8M789.9,912.8L788.9,915.1M788.9,915.1L792.0,926.1M797.9,929.5L792.0,926.1M781.2,932.2L792.0,926.1M781.2,932.2L774.8,929.7M806.4,926.4L810.6,929.1M810.1,914.1L820.6,914.8M820.6,914.8L824.3,926.4M824.3,926.4L823.6,928.0M844.1,925.6L836.8,919.4M844.1,925.6L839.8,936.3M839.8,936.3L831.7,938.5M831.7,938.5L827.9,937.3M836.8,919.4L824.3,926.4M823.6,928.0L827.9,937.3M836.7,954.8L823.1,955.8M836.7,954.8L835.9,966.5M826.2,970.3L821.9,957.0M821.9,957.0L823.1,955.8M831.7,938.5L836.9,954.6M823.1,955.8L822.8,942.9M810.6,929.1L810.2,943.3M822.8,942.9L810.2,943.3M808.1,1004.6L819.2,1015.5M808.1,1004.6L801.5,1017.1M814.8,1022.1L803.3,1020.3M814.8,1022.1L819.0,1018.0M819.0,1018.0L819.2,1015.5M801.5,1017.1L803.3,1020.3M801.1,1035.5L813.6,1035.1M801.1,1035.5L799.2,1030.0M814.8,1022.1L813.6,1035.1M803.3,1020.3L799.2,1030.0M805.6,1052.4L810.1,1053.1M810.1,1053.1L812.4,1051.4M771.7,1164.4L770.4,1167.0M771.7,1164.4L761.3,1153.3M750.7,1168.6L750.9,1158.5M756.8,1172.5L770.4,1167.0M750.9,1158.5L761.3,1153.3M770.2,1135.7L772.2,1145.0M770.2,1135.7L764.0,1133.2M764.0,1133.2L755.5,1138.8M755.5,1138.8L761.9,1150.8M779.9,1160.6L771.7,1164.4M779.9,1160.6L783.4,1150.2M783.4,1150.2L772.2,1145.0M761.3,1153.3L761.9,1150.8M875.3,1214.0L881.8,1200.5M881.8,1200.5L869.5,1188.3M855.9,1207.3L852.5,1202.2M869.5,1188.3L857.9,1189.1M857.9,1189.1L852.5,1202.2M824.7,1170.5L826.8,1167.7M824.7,1170.5L827.0,1184.4M827.1,1184.6L852.5,1179.8M844.6,1162.4L852.7,1176.4M852.7,1176.4L852.5,1179.8M805.0,1165.9L824.7,1170.5M805.0,1165.9L802.8,1168.3M802.8,1168.3L806.2,1188.8M806.2,1188.8L827.0,1184.4M815.9,1209.3L802.0,1194.4M815.9,1209.3L829.4,1194.9M806.2,1188.8L802.0,1194.4M829.4,1194.9L827.1,1184.6M829.4,1194.9L842.2,1203.6M857.9,1189.1L852.5,1179.8M842.2,1203.6L852.5,1202.2M770.1,1086.9L774.0,1083.7M770.1,1086.9L771.5,1096.6M774.0,1083.7L782.5,1086.8M783.3,1097.8L771.5,1096.6M783.3,1097.8L785.8,1095.6M782.5,1086.8L785.8,1095.6M823.3,1302.2L832.6,1287.3M823.3,1302.2L840.6,1318.6M832.6,1287.3L855.5,1292.6M855.5,1292.6L851.8,1304.2M848.7,1313.9L840.6,1318.6M818.0,1271.4L812.4,1273.0M812.4,1273.0L804.5,1287.3M820.8,1302.7L823.3,1302.2M830.1,1277.3L832.6,1287.3M837.7,1330.8L840.6,1318.6M600.5,1131.2L603.2,1135.0M600.5,1131.2L607.3,1118.5M603.2,1135.0L621.4,1133.4M607.3,1118.5L611.3,1117.4M611.3,1117.4L623.1,1122.7M621.4,1133.4L624.5,1125.4M628.5,1108.4L624.1,1104.0M628.5,1108.4L623.1,1122.7M624.1,1104.0L614.1,1107.1M614.1,1107.1L611.3,1117.4M628.5,1108.4L638.7,1107.4M624.1,1104.0L623.5,1096.3M623.5,1096.3L628.1,1090.1M628.1,1090.1L642.0,1096.4M638.7,1107.4L642.0,1096.4M642.8,1039.0L654.0,1038.6M641.5,1040.4L642.5,1047.8M642.5,1047.8L653.1,1052.8M654.0,1038.6L657.4,1049.5M653.1,1052.8L657.4,1049.5M657.7,1033.8L654.0,1038.6M657.7,1033.8L651.0,1021.5M642.6,1025.7L645.6,1022.5M642.6,1025.7L642.8,1039.0M645.6,1022.5L651.0,1021.5M663.9,1049.9L668.9,1039.7M664.4,1033.9L668.9,1039.7M671.7,1058.8L663.9,1049.9M651.9,1059.3L661.5,1067.1M651.9,1059.3L653.1,1052.8M669.9,1063.0L661.5,1067.1M627.8,1081.0L643.4,1081.0M627.8,1081.0L626.9,1082.4M642.0,1096.4L646.5,1093.4M646.5,1093.4L643.4,1081.0M651.9,1059.3L641.8,1065.6M661.5,1067.1L658.0,1075.7M641.8,1065.6L646.7,1074.9M658.0,1075.7L646.7,1074.9M720.9,1005.4L711.1,1001.4M720.9,1005.4L726.4,998.0M726.4,998.0L721.9,989.5M721.9,989.5L716.1,987.4M711.1,1001.4L716.1,987.4M713.8,981.0L706.9,974.8M713.8,981.0L714.1,984.8M697.8,974.3L694.9,979.5M694.9,979.5L697.0,991.9M714.1,984.8L697.0,991.9M691.0,1045.6L689.8,1038.4M691.0,1045.6L680.9,1055.0M689.8,1038.4L678.5,1037.7M680.9,1055.0L676.5,1039.8M676.5,1039.8L678.5,1037.7M693.3,1033.3L689.8,1038.4M693.3,1033.3L691.3,1025.0M691.3,1025.0L678.5,1027.9M678.5,1027.9L678.5,1037.7M668.9,1039.7L676.5,1039.8M693.3,1033.3L707.0,1037.1M691.0,1045.6L700.0,1049.3M707.0,1037.1L700.0,1049.3M699.2,1059.3L701.5,1054.0M701.5,1054.0L700.0,1049.3M649.1,1005.8L653.1,1007.4M657.1,1004.8L653.1,1007.4M651.0,1021.5L651.8,1020.6M651.8,1020.6L653.1,1007.4M786.3,906.7L789.9,912.8M726.4,998.0L734.6,998.6M734.6,998.6L737.3,996.3M737.3,996.3L751.1,998.7M736.8,985.8L745.5,980.9M755.0,924.4L761.5,936.5M755.0,924.4L765.1,918.1M774.8,929.7L765.5,938.5M765.1,918.1L772.2,919.1M765.5,938.5L761.5,936.5M741.3,915.1L737.0,917.6M749.3,915.1L754.3,924.2M744.3,929.9L754.3,924.2M744.3,929.9L735.9,920.9M735.9,920.9L737.0,917.6M735.0,915.1L737.0,917.6M762.3,912.3L765.1,918.1M731.4,923.4L725.6,920.9M731.4,923.4L735.9,920.9M802.8,1168.3L791.3,1171.0M791.3,1171.0L785.0,1182.9M802.0,1194.4L799.4,1194.9M785.0,1182.9L799.4,1194.9M779.9,1160.6L791.3,1171.0M770.4,1167.0L776.4,1184.9M785.0,1182.9L776.4,1184.9M758.8,1185.1L771.9,1189.8M771.9,1189.8L776.4,1184.9M820.6,1241.5L807.1,1222.8M820.6,1241.5L828.3,1232.9M823.1,1214.8L816.0,1211.5M816.0,1211.5L807.1,1222.8M820.5,1245.0L820.6,1241.5M842.2,1203.6L838.3,1210.5M815.9,1209.3L816.0,1211.5M812.4,1273.0L797.6,1263.8M820.5,1245.0L800.4,1249.9M800.4,1249.9L797.6,1263.8M795.7,1289.2L785.3,1280.0M785.3,1280.0L786.2,1269.6M797.6,1263.8L786.2,1269.6M775.0,1285.4L760.7,1278.7M775.0,1285.4L785.3,1280.0M759.6,1272.2L774.5,1259.4M786.2,1269.6L774.5,1259.4M775.0,1285.4L772.8,1298.4M750.7,1291.0L757.7,1303.1M757.7,1303.1L772.8,1298.4M747.2,1318.5L754.8,1314.8M757.7,1303.1L754.8,1314.8M791.6,1303.9L782.8,1307.0M772.8,1298.4L782.8,1307.0M830.6,1337.2L817.6,1338.4M833.9,1364.6L820.8,1366.2M820.8,1366.2L812.6,1354.1M812.6,1354.1L817.6,1338.4M807.2,1315.6L805.9,1329.2M817.6,1338.4L805.9,1329.2M808.8,1392.1L815.2,1381.7M789.5,1385.1L796.0,1372.3M796.0,1372.3L814.8,1380.8M827.6,1387.6L815.2,1381.7M770.7,1374.4L784.4,1357.4M792.9,1362.9L784.4,1357.4M792.9,1362.9L796.0,1372.3M820.8,1366.2L814.8,1380.8M812.6,1354.1L792.9,1362.9M627.7,1039.1L623.8,1049.2M607.3,1040.8L608.4,1034.3M607.9,1042.1L621.8,1049.5M608.4,1034.3L611.6,1030.6M621.8,1049.5L623.8,1049.2M611.6,1030.6L627.1,1037.6M642.6,1025.7L637.8,1026.0M627.7,1039.1L641.5,1040.4M577.7,1077.6L578.7,1077.2M586.8,1080.2L589.7,1087.1M595.9,1089.0L589.7,1087.1M595.9,1089.0L600.1,1081.7M621.8,1049.5L619.1,1052.1M608.4,1034.3L603.8,1032.9M603.3,1149.8L603.2,1135.0M621.4,1133.4L622.6,1137.5M622.6,1137.5L613.7,1154.8M595.9,1089.0L596.8,1099.8M609.0,1101.4L601.2,1103.2M609.0,1101.4L611.9,1093.9M596.8,1099.8L601.2,1103.2M610.6,1091.1L611.9,1093.9M614.0,1082.5L610.6,1091.1M614.0,1082.5L611.4,1079.2M614.1,1107.1L609.0,1101.4M607.3,1118.5L601.1,1112.8M601.1,1112.8L601.2,1103.2M623.5,1096.3L611.9,1093.9M601.1,1112.8L590.4,1114.8M590.4,1114.8L585.6,1106.4M585.6,1106.4L596.8,1099.8M614.0,1082.5L626.9,1082.4M600.5,1131.2L593.5,1129.9M590.4,1114.8L588.5,1121.6M593.5,1129.9L588.5,1121.6M571.0,1131.3L574.8,1131.6M566.8,1115.9L571.3,1113.8M577.3,1121.7L574.8,1131.6M641.9,1222.2L641.2,1218.1M722.3,1184.1L720.8,1172.1M722.3,1184.1L708.2,1191.9M720.8,1172.1L705.2,1172.8M708.2,1191.9L701.0,1179.0M701.0,1179.0L705.2,1172.8M730.0,1165.8L741.2,1173.2M730.0,1165.8L722.8,1168.8M731.5,1190.0L722.3,1184.1M731.5,1190.0L739.6,1186.9M722.8,1168.8L720.8,1172.1M706.5,1197.9L708.2,1191.9M729.2,1201.4L715.6,1205.5M696.1,1202.5L683.9,1190.1M683.9,1190.1L693.2,1179.0M693.2,1179.0L701.0,1179.0M651.0,1205.6L669.2,1211.2M651.0,1205.6L646.4,1191.2M652.7,1187.4L672.0,1194.2M652.7,1187.4L646.4,1191.2M672.0,1194.2L669.2,1211.2M643.5,1215.2L651.0,1205.6M671.5,1215.9L669.2,1211.2M677.0,1189.8L672.9,1176.0M677.0,1189.8L672.0,1194.2M672.9,1176.0L658.5,1171.8M683.9,1190.1L677.0,1189.8M917.8,1071.3L918.7,1069.3M903.8,1061.8L908.0,1055.6M908.0,1055.6L908.9,1056.0M895.4,977.9L886.2,990.0M896.3,978.1L901.9,991.8M901.9,991.8L897.9,997.4M886.2,990.0L887.7,993.7M887.7,993.7L897.9,997.4M881.2,1004.4L887.7,993.7M881.2,1004.4L884.2,1008.4M898.9,1002.6L897.9,997.4M898.9,1002.6L897.1,1005.8M884.2,1008.4L897.1,1005.8M888.4,1035.2L888.9,1022.0M888.4,1035.2L876.5,1037.6M876.5,1037.6L874.1,1033.4M888.9,1022.0L883.8,1019.2M883.8,1019.2L880.9,1020.3M880.9,1020.3L874.1,1033.4M931.8,1179.2L923.0,1172.7M925.6,1168.3L923.0,1172.7M931.9,1195.9L930.9,1196.6M930.9,1196.6L927.7,1206.4M887.7,1198.7L881.8,1200.5M887.7,1198.7L900.6,1208.2M896.6,1168.6L892.7,1182.6M896.6,1168.6L905.6,1170.7M907.6,1171.2L914.5,1172.8M910.5,1188.4L894.4,1186.0M910.6,1188.3L915.2,1173.7M914.5,1172.8L915.2,1173.7M894.4,1186.0L892.7,1182.6M893.1,1161.6L900.1,1157.8M893.1,1161.6L896.6,1168.6M914.2,1170.3L914.5,1172.8M930.9,1196.6L910.6,1188.3M923.0,1172.7L915.2,1173.7M869.5,1188.3L877.4,1178.2M877.4,1178.2L892.7,1182.6M820.6,914.8L825.0,907.1M836.8,919.4L836.8,917.3M850.3,924.7L844.1,925.6M896.3,978.1L901.8,975.5M905.7,956.7L902.9,956.7M902.0,953.5L902.9,956.7M890.8,945.1L889.6,944.4M903.2,965.5L902.5,957.3M876.1,939.2L877.2,936.2M889.6,944.4L885.4,946.1M833.0,980.9L844.7,975.4M833.0,980.9L825.3,972.0M825.3,972.0L826.2,970.3M835.9,966.5L844.8,973.0M844.8,973.0L844.7,975.4M772.2,919.1L773.5,909.0M771.0,981.8L779.3,990.8M771.0,981.8L777.0,972.8M782.6,973.4L777.0,972.8M782.6,973.4L787.7,979.8M779.3,990.8L787.7,984.0M787.7,979.8L787.7,984.0M769.3,997.1L778.0,995.5M769.3,997.1L759.9,990.7M778.0,995.5L779.3,990.8M764.1,982.3L771.0,981.8M794.4,1001.5L797.7,999.3M794.4,1001.5L780.8,999.6M780.8,999.6L778.0,995.5M797.7,999.3L796.1,989.7M796.1,989.7L787.7,984.0M801.3,971.7L787.7,979.8M801.3,971.7L796.4,963.5M782.6,973.4L789.0,961.8M813.6,957.7L805.8,951.1M813.6,957.7L821.9,957.0M810.2,943.3L805.2,948.7M805.2,948.7L805.8,951.1M744.7,1153.5L745.4,1143.8M744.7,1153.5L733.0,1156.5M733.0,1156.5L724.9,1143.7M724.9,1143.7L739.5,1139.5M739.5,1139.5L745.4,1143.8M750.9,1158.5L744.7,1153.5M755.3,1138.7L745.4,1143.8M730.0,1165.8L733.0,1156.5M740.6,1127.2L739.5,1139.5M740.6,1127.2L747.8,1126.4M747.8,1126.4L755.3,1138.7M783.3,1097.8L781.7,1107.6M771.5,1096.6L769.1,1099.3M769.1,1099.3L771.4,1112.2M781.7,1107.6L771.4,1112.2M783.4,1150.2L786.5,1148.1M777.7,1131.1L785.4,1136.0M785.4,1136.0L786.5,1148.1M805.0,1165.9L804.8,1162.4M750.8,1123.1L763.0,1123.1M749.9,1113.0L758.2,1109.8M758.2,1109.8L768.1,1116.0M768.1,1116.0L763.0,1123.1M764.0,1133.2L763.0,1123.1M747.8,1126.4L750.8,1123.1M735.1,1114.4L736.3,1124.4M735.1,1114.4L741.2,1107.7M740.6,1127.2L736.3,1124.4M741.2,1107.7L749.9,1113.0M769.1,1099.3L757.6,1098.5M757.6,1098.5L758.2,1109.8M769.3,1115.6L771.4,1112.2M769.3,1115.6L768.1,1116.0M770.1,1086.9L761.3,1085.4M761.3,1085.4L753.8,1092.2M757.6,1098.5L754.0,1094.7M753.8,1092.2L754.0,1094.7M741.2,1107.7L741.2,1105.0M754.0,1094.7L741.2,1105.0M735.1,1114.4L722.2,1111.5M722.2,1111.5L719.5,1108.7M721.8,1100.6L719.5,1108.7M722.9,1099.7L736.2,1099.5M741.2,1105.0L736.2,1099.5M668.5,1126.4L670.1,1124.4M668.5,1126.4L675.6,1137.9M670.1,1124.4L684.5,1123.3M686.4,1135.2L687.7,1128.1M687.7,1128.1L684.5,1123.3M661.0,1128.5L668.5,1126.4M659.5,1144.8L656.8,1141.8M659.5,1144.8L673.2,1143.7M673.2,1143.7L675.6,1137.9M682.2,1096.5L689.2,1111.4M681.6,1096.5L671.1,1104.6M689.2,1111.4L686.6,1113.7M686.6,1113.7L670.1,1109.2M670.1,1109.2L671.1,1104.6M697.3,1110.3L700.3,1126.1M697.3,1110.3L689.2,1111.4M700.3,1126.1L687.7,1128.1M684.5,1123.3L686.6,1113.7M669.5,1109.8L670.1,1124.4M672.4,1082.3L659.7,1078.8M672.4,1082.3L672.5,1086.5M672.5,1086.5L664.4,1094.8M659.7,1078.8L655.0,1093.4M664.4,1094.8L655.0,1093.4M677.6,1077.1L672.4,1082.3M658.0,1075.7L659.7,1078.8M690.1,1091.3L682.2,1096.5M690.1,1091.3L683.3,1076.8M681.6,1096.5L672.5,1086.5M671.1,1104.6L664.4,1094.8M646.5,1093.4L653.7,1094.2M653.7,1094.2L655.0,1093.4M656.8,1110.0L653.7,1094.2M656.8,1110.0L669.5,1109.8M723.0,1130.7L720.9,1128.4M720.9,1128.4L709.7,1125.8M720.4,1144.1L703.6,1139.0M703.6,1139.0L704.2,1128.5M736.3,1124.4L723.0,1130.7M724.9,1143.7L723.1,1142.8M711.0,1110.6L719.5,1108.7M713.2,1156.0L722.8,1168.8M713.2,1156.0L720.4,1144.1M701.5,1106.8L711.0,1110.6M701.5,1106.8L697.3,1110.3M700.3,1126.1L704.2,1128.5M693.2,1091.6L701.2,1100.1M701.2,1100.1L710.7,1092.4M700.8,1081.7L710.8,1084.6M710.7,1092.4L711.4,1085.6M711.4,1085.6L710.8,1084.6M690.1,1091.3L693.2,1091.6M701.5,1106.8L701.2,1100.1M698.9,1076.3L700.8,1081.7M679.3,980.7L679.2,978.2M635.3,1056.5L629.0,1055.0M635.3,1056.5L641.0,1065.3M629.0,1055.0L622.3,1068.0M641.0,1065.3L627.8,1074.2M627.8,1074.2L622.3,1068.0M623.8,1049.2L629.0,1055.0M642.5,1047.8L635.3,1056.5M627.8,1081.0L627.8,1074.2M711.1,1001.4L704.0,1004.1M714.1,984.8L716.1,987.4M698.1,999.4L696.8,992.3M695.2,1020.1L704.0,1005.6M695.2,1020.1L692.8,1020.9M698.1,999.4L686.7,1006.1M686.1,1013.2L686.7,1006.1M668.6,1026.3L674.9,1024.9M668.6,1026.3L662.8,1019.4M674.9,1024.9L676.5,1016.0M662.8,1019.4L667.8,1010.9M676.5,1016.0L669.9,1010.4M667.8,1010.9L669.9,1010.4M678.5,1027.9L674.9,1024.9M651.8,1020.6L662.8,1019.4M691.3,1025.0L692.8,1020.9M686.1,1013.2L676.5,1016.0M722.9,1099.7L725.7,1086.8M711.4,1085.6L724.3,1085.3M724.3,1085.3L725.7,1086.8M736.2,1099.5L737.1,1087.0M725.7,1086.8L737.1,1087.0M753.8,1092.2L743.5,1083.6M743.5,1083.6L740.9,1083.6M740.9,1083.6L737.1,1087.0M695.2,1020.1L708.2,1023.9M704.0,1005.6L712.8,1018.2M720.9,1005.4L721.8,1008.7M721.8,1008.7L714.9,1017.8M712.8,1018.2L714.9,1017.8M707.0,1037.1L710.1,1036.0M708.2,1023.9L710.1,1036.0M701.5,1054.0L712.1,1053.8M715.6,1044.8L712.1,1053.8M715.6,1044.8L710.2,1036.0M721.8,1008.7L730.1,1013.1M734.6,998.6L735.9,1009.8M730.1,1013.1L735.9,1009.8M763.4,967.3L751.6,962.9M751.6,962.9L745.5,973.9M768.5,964.2L769.6,964.5M768.5,964.2L763.4,967.3M769.6,964.5L777.0,972.8M764.1,982.3L760.8,975.9M745.5,980.9L746.5,976.6M754.4,992.6L759.9,990.7M731.8,983.6L728.7,974.3M745.5,973.9L734.9,968.1M734.9,968.1L728.7,974.3M713.8,981.0L722.2,973.7M722.2,973.7L719.6,966.4M722.2,973.7L728.7,974.3M761.5,936.5L748.3,941.1M744.3,929.9L742.8,935.9M742.8,935.9L748.3,941.1M807.1,1222.8L794.1,1223.5M800.4,1249.9L788.8,1240.2M794.1,1223.5L788.8,1240.2M564.7,1102.1L572.0,1111.7M564.1,1098.0L564.4,1096.5M571.3,1090.5L567.5,1092.1M571.3,1090.5L579.0,1094.4M579.0,1094.4L581.0,1104.8M581.0,1104.8L572.0,1111.7M571.3,1113.8L572.0,1111.7M571.5,1086.4L571.3,1090.5M589.7,1087.1L579.0,1094.4M585.6,1106.4L581.0,1104.8M588.5,1121.6L577.3,1121.7M766.1,1346.0L769.0,1323.1M782.0,1352.1L794.5,1332.8M794.5,1332.8L778.1,1320.0M778.1,1320.0L769.0,1323.1M763.1,1346.8L766.1,1346.0M784.4,1357.4L782.0,1352.1M754.8,1314.8L769.0,1323.1M805.9,1329.2L794.5,1332.8M782.8,1307.0L778.1,1320.0M652.3,1114.4L642.0,1111.7M652.3,1114.4L654.1,1122.9M654.1,1122.9L640.9,1130.5M656.8,1110.0L652.3,1114.4M661.0,1128.5L654.1,1122.9M624.5,1125.4L636.0,1126.1M577.4,1139.5L579.3,1138.3M584.2,1144.8L582.0,1139.3M579.3,1138.3L582.0,1139.3M599.2,1151.6L585.4,1145.8M599.2,1151.6L597.2,1155.1M574.8,1131.6L579.3,1138.3M603.3,1149.8L599.2,1151.6M593.5,1129.9L582.0,1139.3M629.8,1200.9L629.8,1197.8M624.8,1195.1L629.8,1197.8M646.4,1191.2L644.1,1190.7M644.1,1190.7L629.8,1197.8M658.5,1171.8L656.0,1165.7M656.0,1165.7L642.8,1162.7M644.1,1190.7L633.1,1172.5M642.8,1162.7L633.1,1172.5M624.1,1177.5L628.9,1172.6M614.8,1159.0L615.6,1157.8M628.9,1172.6L624.5,1167.8M616.9,1159.2L615.6,1157.8M613.7,1154.8L615.5,1157.3M678.2,1157.5L682.5,1165.4M678.2,1157.5L679.1,1153.5M679.1,1153.5L693.1,1144.5M685.0,1166.1L682.5,1165.4M685.0,1166.1L701.1,1158.5M701.5,1157.8L696.5,1145.4M696.5,1145.4L693.1,1144.5M672.9,1176.0L682.5,1165.4M660.6,1159.3L678.2,1157.5M659.5,1144.8L660.6,1159.3M673.2,1143.7L679.1,1153.5M686.4,1135.2L693.1,1144.5M693.2,1179.0L685.0,1166.1M705.2,1172.8L701.1,1158.5M713.2,1156.0L701.5,1157.8M703.6,1139.0L696.5,1145.4M904.0,1051.0L893.0,1048.4M879.6,1051.6L874.9,1046.7M888.4,1035.2L894.3,1039.7M874.9,1046.7L876.5,1037.6M893.0,1048.4L894.3,1039.7M812.4,1051.4L821.7,1051.5M821.7,1051.5L825.5,1046.3M825.5,1046.3L821.4,1036.9M819.0,1018.0L827.4,1023.7M827.4,1023.7L828.1,1032.8M821.4,1036.9L828.1,1032.8M819.2,1015.5L829.1,1006.3M827.4,1023.7L839.2,1018.9M838.7,1013.9L829.1,1006.3M838.7,1013.9L839.4,1018.6M832.1,985.1L839.4,994.2M832.1,985.1L823.3,988.3M839.4,994.2L829.0,1002.5M823.3,988.3L821.7,996.4M829.0,1002.5L821.7,996.4M833.0,980.9L832.1,985.1M843.8,994.2L839.4,994.2M843.8,994.2L848.6,981.5M848.6,981.5L844.7,975.4M838.7,1013.9L846.2,1007.0M843.8,994.2L845.3,995.8M829.1,1006.3L829.0,1002.5M846.2,1007.0L845.3,995.8M808.1,1004.6L807.6,1002.3M807.6,1002.3L811.7,998.2M886.2,990.0L877.3,986.8M877.3,986.8L875.1,987.6M881.2,1004.4L871.4,1002.1M875.1,987.6L871.4,1002.1M848.6,981.5L861.9,982.7M844.8,973.0L853.1,964.0M853.1,964.0L857.7,965.6M857.7,965.6L863.6,979.9M863.6,979.9L863.2,981.8M863.2,981.8L861.9,982.7M845.3,995.8L859.3,996.9M861.9,982.7L859.3,996.9M888.9,1022.0L891.8,1021.7M883.8,1019.2L884.2,1008.4M897.1,1005.8L898.7,1012.5M897.8,1015.5L891.8,1021.7M880.9,1020.3L869.9,1016.8M869.9,1016.8L871.3,1002.1M846.2,1007.0L856.3,1010.9M859.3,996.9L862.5,1001.1M875.1,987.6L863.2,981.8M871.3,1002.1L862.5,1001.1M877.4,1178.2L876.0,1166.9M876.0,1166.9L893.0,1161.5M901.1,1126.1L899.8,1126.3M899.2,1130.9L899.8,1126.3M885.4,946.1L884.1,953.7M902.5,957.3L893.3,960.2M895.4,977.9L888.5,972.3M893.3,960.2L888.5,972.3M877.3,986.8L881.7,971.9M888.5,972.3L881.7,971.9M839.8,936.3L849.5,943.6M836.9,954.6L841.4,953.9M849.5,943.6L841.4,953.9M841.4,953.9L852.9,963.4M866.5,962.4L869.4,954.8M866.5,962.4L874.2,970.3M869.4,954.8L880.1,956.8M880.1,956.8L879.8,970.4M874.2,970.3L879.8,970.4M857.7,965.6L866.5,962.4M852.9,963.4L858.0,948.8M868.4,952.8L858.0,948.8M868.4,952.8L869.4,954.8M863.6,979.9L874.2,970.3M884.1,953.7L880.1,956.8M874.6,939.6L868.4,952.8M881.7,971.9L879.8,970.4M812.7,1132.8L805.5,1134.1M805.5,1134.1L803.6,1139.7M803.6,1139.7L809.6,1152.9M809.6,1152.9L824.0,1148.2M824.0,1148.2L825.6,1145.5M804.8,1162.4L809.6,1152.9M789.3,1148.3L803.6,1139.7M826.8,1167.7L824.0,1148.2M845.9,1157.7L829.6,1144.0M845.9,1157.7L844.6,1162.4M761.4,1023.3L771.3,1014.3M761.4,1023.3L750.1,1011.4M752.4,1006.4L750.1,1011.4M765.6,1006.8L771.3,1014.3M746.0,1013.5L735.9,1009.8M746.0,1013.5L750.1,1011.4M769.3,997.1L765.6,1006.8M764.6,1039.0L772.4,1045.1M764.6,1039.0L765.9,1030.9M765.9,1030.9L780.5,1030.4M772.4,1045.1L782.2,1036.6M782.2,1036.6L780.5,1030.4M754.4,1044.1L750.9,1031.0M750.9,1031.0L761.3,1025.0M761.3,1025.0L765.9,1030.9M789.6,1042.3L782.2,1036.6M788.6,1049.3L778.4,1054.1M778.4,1054.1L772.5,1050.3M772.5,1050.3L772.4,1045.1M789.5,1025.1L792.0,1014.9M789.5,1025.1L780.9,1029.3M780.9,1029.3L775.8,1014.5M791.4,1014.1L778.3,1012.4M778.3,1012.4L775.8,1014.5M801.5,1017.1L792.0,1014.9M799.2,1030.0L789.5,1025.1M780.5,1030.4L780.9,1029.3M761.3,1025.0L761.4,1023.3M771.3,1014.3L775.8,1014.5M794.4,1001.5L791.4,1014.1M807.6,1002.3L797.7,999.3M780.8,999.6L778.3,1012.4M821.9,973.7L810.7,968.9M821.9,973.7L818.5,982.3M818.5,982.3L809.4,983.9M810.7,968.9L803.9,972.9M803.9,972.9L806.3,982.0M809.4,983.9L806.3,982.0M825.3,972.0L821.9,973.7M813.6,957.7L810.7,968.9M823.3,988.3L818.5,982.3M811.7,998.2L809.4,983.9M796.4,963.5L805.8,951.1M796.1,989.7L806.3,982.0M783.8,955.6L785.1,956.1M783.8,955.6L779.0,948.2M779.0,948.2L784.3,939.5M784.3,939.5L795.9,942.0M795.9,942.0L797.3,944.6M769.6,964.5L783.8,955.6M789.0,961.8L785.1,956.1M768.5,964.2L764.4,950.1M764.4,950.1L767.0,945.5M767.0,945.5L779.0,948.2M805.2,948.7L797.3,944.6M781.2,932.2L784.3,939.5M767.0,945.5L765.5,938.5M797.9,929.5L795.9,942.0M795.3,1058.7L795.0,1060.2M810.1,1053.1L812.7,1063.2M812.7,1063.2L802.7,1069.2M802.7,1069.2L795.0,1060.2M779.0,1061.6L778.4,1054.1M779.0,1061.6L788.7,1064.8M795.0,1060.2L788.7,1064.8M774.0,1083.7L774.3,1073.7M774.3,1073.7L787.5,1074.5M782.5,1086.8L789.7,1077.6M787.5,1074.5L789.7,1077.6M821.7,1051.5L827.0,1061.1M812.7,1063.2L815.5,1064.9M815.5,1064.9L827.0,1061.1M835.6,1058.5L833.7,1046.7M835.6,1058.5L831.6,1062.8M833.7,1046.7L825.5,1046.3M827.0,1061.1L831.6,1062.8M845.6,1075.7L831.8,1064.0M835.6,1058.5L847.7,1056.7M851.5,1067.1L847.7,1056.7M831.8,1064.0L831.6,1062.8M781.7,1107.6L789.0,1113.1M777.7,1122.9L786.3,1120.5M786.3,1120.5L789.0,1113.1M785.4,1136.0L793.6,1128.6M786.3,1120.5L793.6,1128.6M805.5,1134.1L799.9,1128.6M673.6,1002.2L680.2,1001.1M673.6,1002.2L668.5,995.9M680.2,1001.1L682.8,991.1M668.5,995.9L672.9,984.7M682.8,991.1L677.3,983.6M672.9,984.7L677.3,983.6M686.7,1006.1L680.2,1001.1M669.9,1010.4L673.6,1002.2M665.6,996.2L668.5,995.9M696.8,992.3L682.8,991.1M667.3,982.0L672.9,984.7M679.3,980.7L677.3,983.6M732.6,1069.1L720.1,1060.4M732.6,1069.5L724.7,1075.6M724.7,1075.6L714.5,1072.8M712.3,1068.5L714.5,1072.8M712.3,1068.5L717.5,1060.8M717.5,1060.8L720.1,1060.4M735.3,1066.4L737.1,1055.9M735.3,1066.4L732.6,1069.1M737.1,1055.9L726.3,1051.9M726.3,1051.9L720.1,1060.4M724.3,1085.3L724.7,1075.6M740.9,1083.6L732.6,1069.5M710.8,1084.6L714.5,1072.8M705.2,1067.9L712.3,1068.5M712.1,1053.8L717.5,1060.8M715.6,1044.8L724.8,1046.7M726.3,1051.9L724.8,1046.7M761.3,1085.4L759.9,1075.0M774.3,1073.7L773.4,1072.5M759.9,1075.0L773.4,1072.5M779.0,1061.6L773.5,1067.0M788.7,1064.8L787.5,1074.5M773.4,1072.5L773.5,1067.0M746.9,1029.9L737.2,1039.7M746.9,1029.9L742.7,1022.9M742.7,1022.9L729.1,1025.7M731.7,1037.8L727.4,1029.8M731.7,1037.8L737.2,1039.7M727.4,1029.8L727.9,1027.0M727.9,1027.0L729.1,1025.7M754.4,1044.1L740.2,1043.9M750.9,1031.0L746.9,1029.9M740.2,1043.9L737.2,1039.7M746.0,1013.5L742.7,1022.9M730.1,1013.1L729.1,1025.7M724.8,1046.7L731.7,1037.8M710.2,1036.0L727.4,1029.8M740.2,1043.9L738.8,1054.4M738.8,1054.4L737.1,1055.9M714.9,1017.8L727.9,1027.0M734.9,968.1L734.7,966.1M734.7,966.1L726.7,958.7M748.4,946.5L740.6,952.6M748.4,946.5L755.6,952.3M751.2,961.5L741.8,957.3M751.2,961.5L755.6,952.3M741.8,957.3L740.6,952.6M764.4,950.1L755.6,952.3M748.3,941.1L748.4,946.5M751.6,962.9L751.2,961.5M734.7,966.1L741.8,957.3M728.2,946.3L732.9,948.9M733.6,948.7L737.7,937.7M737.7,937.7L734.9,936.2M726.7,958.7L732.9,948.9M740.6,952.6L733.6,948.7M742.8,935.9L737.7,937.7M731.4,923.4L729.0,931.8M771.9,1189.8L772.2,1197.4M799.4,1194.9L785.4,1211.8M785.4,1211.8L772.2,1197.4M794.1,1223.5L785.5,1213.2M785.4,1211.8L785.5,1213.2M631.6,1151.8L641.6,1159.2M631.6,1151.8L632.0,1143.1M632.0,1143.1L642.2,1137.8M642.2,1137.8L647.8,1142.2M615.5,1157.3L631.6,1151.8M622.6,1137.5L632.0,1143.1M656.8,1141.8L647.8,1142.2M640.9,1130.5L642.2,1137.8M888.5,1068.2L885.2,1083.9M872.8,1076.0L883.4,1084.3M898.9,1002.6L904.6,1003.7M847.7,1056.7L849.9,1052.8M864.6,1062.8L862.5,1052.7M874.9,1046.7L866.0,1048.5M862.5,1052.7L866.0,1048.5M833.6,1034.7L836.5,1043.5M833.6,1034.7L840.0,1030.1M836.5,1043.5L847.5,1043.9M847.5,1043.9L852.0,1035.8M833.7,1046.7L836.5,1043.5M828.1,1032.8L833.6,1034.7M849.9,1052.8L847.5,1043.9M903.5,1034.7L907.2,1041.6M891.8,1021.7L898.5,1026.3M894.3,1039.7L903.5,1034.7M864.3,1019.8L857.2,1015.3M864.3,1019.8L864.3,1029.9M864.3,1029.9L856.5,1035.0M850.3,1020.9L853.2,1035.1M850.3,1020.9L857.2,1015.3M856.5,1035.0L853.2,1035.1M856.3,1010.9L857.2,1015.3M874.1,1033.4L864.3,1029.9M866.0,1048.5L856.5,1035.0M852.0,1035.8L853.2,1035.1M895.1,1115.5L894.7,1122.0M899.8,1126.3L894.7,1122.0M876.0,1166.9L872.1,1164.2M869.3,1164.2L872.1,1164.2M845.9,1157.7L854.3,1150.1M869.3,1164.2L854.3,1150.1M887.1,1144.7L876.2,1145.0M887.1,1144.7L889.3,1142.2M889.3,1142.2L885.5,1126.6M876.2,1145.0L871.7,1141.7M879.0,1124.2L870.2,1134.8M879.0,1124.2L885.5,1126.6M870.2,1134.8L871.7,1141.7M893.0,1161.5L887.1,1144.7M872.1,1164.2L876.2,1145.0M890.5,1141.9L889.3,1142.2M894.7,1122.0L885.5,1126.6M854.3,1150.1L871.7,1141.7M878.2,1122.1L866.1,1116.4M859.8,1128.2L866.1,1116.4M867.3,937.3L855.2,943.9M867.3,937.3L864.4,930.4M854.4,928.7L853.8,943.1M854.4,928.7L860.1,928.4M853.8,943.1L855.2,943.9M874.6,939.6L867.3,937.3M858.0,948.8L855.2,943.9M850.3,924.7L854.4,928.7M849.5,943.6L853.8,943.1M852.7,1109.3L858.8,1095.1M852.7,1109.3L849.5,1110.5M848.5,1110.3L842.9,1100.2M842.9,1100.2L847.0,1092.1M858.5,1094.1L858.8,1095.1M859.8,1128.2L855.0,1128.8M866.1,1116.4L864.9,1112.3M855.0,1128.8L849.5,1110.5M864.9,1112.3L852.7,1109.3M863.0,1084.5L862.8,1083.4M863.0,1084.5L858.5,1094.1M785.8,1095.6L793.3,1096.0M789.7,1077.6L794.7,1079.0M793.3,1096.0L797.2,1091.6M797.2,1091.6L794.7,1079.0M848.5,1110.3L842.7,1113.8M842.9,1100.2L835.3,1099.4M835.3,1099.4L828.3,1109.4M828.3,1109.4L829.1,1110.6M842.7,1113.8L829.1,1110.6M797.8,1105.6L808.9,1103.6M797.8,1105.6L796.1,1110.8M796.1,1110.8L801.6,1118.0M801.6,1118.0L813.5,1114.4M808.9,1103.6L813.8,1113.7M793.3,1096.0L797.8,1105.6M789.0,1113.1L796.1,1110.8M799.9,1128.6L801.6,1118.0M812.7,1132.8L817.7,1125.6M817.7,1125.6L813.5,1114.4M817.7,1125.6L828.0,1124.4M828.3,1109.4L825.3,1108.4M825.3,1108.4L813.8,1113.7M829.1,1110.6L828.0,1124.4M743.5,1083.6L749.9,1075.2M735.3,1066.4L747.1,1067.5M749.9,1075.2L747.1,1067.5M748.3,1191.3L751.1,1207.1M772.2,1197.4L755.2,1208.5M751.1,1207.1L755.2,1208.5M729.2,1201.4L738.7,1213.1M751.1,1207.1L738.7,1213.1M785.5,1213.2L764.5,1224.2M755.2,1208.5L764.5,1224.2M721.4,1226.8L735.0,1223.2M738.7,1213.1L735.0,1223.2M887.5,1108.3L882.2,1110.6M883.8,1097.5L878.8,1092.0M882.2,1110.6L870.8,1104.8M870.8,1104.8L870.6,1102.4M870.6,1102.4L877.6,1092.5M877.6,1092.5L878.8,1092.0M890.3,1110.9L887.5,1108.3M878.2,1122.1L882.2,1110.6M880.5,1089.4L878.8,1092.0M864.9,1112.3L870.8,1104.8M863.0,1084.5L877.6,1092.5M819.8,1097.4L830.3,1090.7M819.8,1097.4L813.0,1095.3M813.0,1095.3L810.7,1090.7M810.7,1090.7L813.0,1081.9M813.0,1081.9L818.3,1078.8M818.3,1078.8L825.0,1079.1M825.0,1079.1L831.6,1084.9M831.6,1084.9L830.3,1090.7M835.3,1099.4L830.3,1090.7M825.3,1108.4L819.8,1097.4M808.9,1103.6L813.0,1095.3M802.3,1074.9L813.0,1081.9M815.5,1064.9L818.3,1078.8M831.8,1064.0L825.0,1079.1M831.8,1127.3L839.6,1124.4M831.8,1127.3L832.4,1140.0M839.6,1124.4L851.2,1131.9M832.4,1140.0L849.5,1137.6M842.7,1113.8L839.6,1124.4M828.0,1124.4L831.8,1127.3M829.6,1144.0L832.4,1140.0M855.0,1128.8L851.2,1131.9M854.3,1150.1L849.5,1137.6M751.0,1056.9L751.9,1061.5M751.0,1056.9L755.9,1049.8M751.9,1061.5L759.2,1065.3M755.9,1049.8L765.6,1054.5M759.2,1065.3L765.5,1061.3M765.6,1054.5L765.5,1061.3M738.8,1054.4L751.0,1056.9M747.1,1067.5L751.9,1061.5M755.0,1044.6L755.9,1049.8M759.8,1074.9L759.2,1065.3M772.5,1050.3L765.6,1054.5M744.8,1233.4L763.7,1226.7M744.8,1233.4L744.0,1249.2M745.9,1251.5L744.0,1249.2M745.9,1251.5L772.8,1247.3M763.7,1226.7L773.5,1246.0M772.8,1247.3L773.5,1246.0M735.0,1223.2L744.8,1233.4M764.5,1224.2L763.7,1226.7M722.4,1249.9L744.0,1249.2M746.6,1263.6L745.9,1251.5M774.5,1259.4L772.8,1247.3M788.8,1240.2L773.5,1246.0M617.3,1360.1L610.2,1361.0M617.3,1360.1L620.5,1349.2M620.5,1349.2L617.9,1346.3M610.2,1361.0L605.9,1350.4M605.9,1350.4L610.5,1346.0M599.6,1350.6L605.9,1350.4M599.6,1350.6L598.0,1349.0M606.0,1335.5L610.5,1346.0M606.0,1335.5L598.0,1339.5M598.0,1339.5L597.7,1343.0M605.9,1320.1L598.3,1323.0M611.7,1325.1L612.0,1330.5M597.3,1325.7L606.3,1334.6M597.3,1325.7L598.3,1323.0M612.0,1330.5L606.3,1334.6M593.0,1328.2L593.4,1336.7M593.0,1328.2L597.3,1325.7M598.0,1339.5L593.4,1336.7M619.5,1318.3L618.2,1315.1M619.5,1318.3L611.7,1325.1M606.4,1318.0L605.9,1320.1M632.0,1327.0L625.1,1324.3M632.0,1327.0L633.7,1331.9M633.7,1331.9L630.6,1336.9M630.6,1336.9L621.1,1336.1M625.1,1324.3L619.6,1333.3M619.6,1333.3L621.1,1336.1M619.5,1318.3L623.5,1320.4M623.5,1320.4L625.1,1324.3M612.0,1330.5L619.6,1333.3M617.9,1346.3L621.1,1336.1M620.5,1349.2L626.8,1349.8M633.4,1344.3L626.8,1349.8M621.5,1364.1L617.3,1360.1M621.5,1364.1L625.4,1363.6M625.4,1363.6L630.3,1356.7M626.8,1349.8L630.3,1356.7M658.4,1367.7L659.5,1359.3M658.4,1367.7L650.2,1367.8M656.2,1356.2L647.7,1357.4M650.2,1367.8L647.7,1357.4M604.7,1399.6L604.6,1398.0M604.6,1398.0L606.6,1397.0M606.6,1397.0L610.9,1398.0M621.5,1364.1L618.9,1373.6M618.9,1373.6L611.0,1372.4M610.2,1361.0L607.8,1363.9M611.0,1372.4L607.8,1363.9M595.9,1361.1L599.0,1364.9M595.9,1361.1L599.6,1350.6M607.8,1363.9L599.0,1364.9M611.0,1372.4L604.1,1379.5M599.0,1364.9L596.9,1374.3M596.9,1374.3L604.1,1379.5M619.1,1373.9L618.0,1385.7M618.0,1385.7L611.7,1386.1M611.7,1386.1L604.3,1380.4M598.3,1323.0L596.1,1318.8M593.0,1328.2L587.5,1327.2M583.0,1320.8L583.6,1319.6M583.0,1320.8L579.0,1321.8M647.3,1357.2L640.4,1357.6M647.3,1357.2L648.6,1342.4M640.4,1357.6L637.3,1345.1M637.3,1345.1L646.3,1341.0M648.6,1342.4L646.3,1341.0M649.7,1342.4L659.0,1348.1M649.7,1342.4L648.6,1342.4M659.0,1348.1L656.2,1356.2M633.4,1344.3L637.3,1345.1M630.3,1356.7L639.0,1358.7M639.0,1358.7L640.4,1357.6M644.3,1332.8L633.7,1331.9M644.3,1332.8L646.3,1341.0M649.7,1342.4L659.1,1334.8M644.3,1332.8L645.5,1330.5M659.1,1334.8L659.5,1330.5M659.5,1330.5L657.3,1326.9M668.6,1351.6L675.3,1351.0M668.6,1351.6L662.8,1346.9M676.6,1349.3L675.4,1339.9M676.6,1349.3L675.3,1351.0M675.4,1339.9L671.6,1338.5M671.6,1338.5L664.6,1341.4M662.8,1346.9L664.6,1341.4M659.0,1348.1L662.8,1346.9M659.5,1359.3L665.3,1358.6M665.3,1358.6L668.6,1351.6M680.0,1349.1L676.6,1349.3M680.0,1336.7L675.4,1339.9M680.0,1329.7L672.6,1325.8M669.0,1330.9L671.6,1338.5M669.0,1330.9L672.6,1325.8M659.1,1334.8L664.6,1341.4M659.5,1330.5L669.0,1330.9M668.9,1378.1L661.9,1373.7M674.9,1372.1L672.7,1365.4M672.7,1365.4L670.8,1365.3M661.9,1371.2L661.9,1373.7M656.8,1379.9L661.9,1373.7M656.8,1379.9L657.0,1383.1M677.3,1361.8L672.7,1365.4M665.3,1358.6L670.8,1365.3M658.4,1367.7L661.9,1371.2M619.7,1386.9L632.0,1381.5M619.7,1386.9L621.3,1391.4M621.3,1391.4L624.6,1393.2M635.0,1389.0L632.0,1381.5M618.0,1385.7L619.7,1386.9M606.6,1397.0L611.7,1386.1M618.8,1395.5L621.3,1391.4M631.0,1375.8L632.8,1378.5M631.0,1375.8L631.7,1368.6M632.8,1378.5L643.4,1376.6M631.7,1368.6L637.8,1364.9M637.8,1364.9L645.6,1373.8M619.1,1373.9L631.0,1375.8M632.0,1381.5L632.8,1378.5M625.4,1363.6L631.7,1368.6M645.1,1386.0L643.4,1376.6M639.0,1358.7L637.8,1364.9M650.2,1367.8L645.6,1373.8M656.8,1379.9L645.5,1374.1M592.2,1375.7L589.4,1386.9M592.1,1360.9L595.9,1361.1M596.9,1374.3L592.2,1375.7M589.6,1387.5L597.5,1389.9M594.4,1400.4L600.5,1396.4M600.5,1396.4L597.5,1389.9M604.3,1380.4L597.5,1389.9M604.6,1398.0L600.5,1396.4M587.5,1327.2L584.6,1331.3M593.4,1336.7L591.5,1337.7M680.0,1318.4L675.3,1316.2M672.6,1325.8L671.7,1321.3M671.7,1321.3L675.3,1316.2M623.5,1320.4L631.8,1313.8M631.8,1313.8L631.1,1312.0M670.2,1310.4L675.2,1312.8M675.2,1312.8L677.4,1310.1M675.3,1316.2L675.2,1312.8M632.0,1327.0L638.4,1319.1M645.5,1330.5L642.7,1321.3M642.7,1321.3L638.4,1319.1M631.8,1313.8L637.3,1316.5M640.7,1311.6L637.3,1316.5M638.4,1319.1L637.3,1316.5M660.5,1310.9L650.9,1315.6M660.5,1310.9L663.0,1320.2M657.3,1326.4L650.5,1317.2M657.3,1326.4L663.0,1320.2M650.5,1317.2L650.9,1315.6M648.2,1311.3L650.9,1315.6M671.7,1321.3L663.0,1320.2M642.7,1321.3L650.5,1317.2" fill="none" stroke="#4a5552" stroke-width="1.5"/>
<path d="M1686.5,210.0 L1682.8,220.0 L1676.5,222.5 L1691.5,226.2 L1721.5,223.8 L1741.5,226.2 L1744.0,233.8 L1761.5,237.5 L1771.5,242.5 L1784.0,247.5 L1791.5,257.5 L1804.0,267.5 L1811.5,265.0 M1676.5,222.5 L1674.0,235.0 L1679.0,242.5 L1681.5,257.5 L1684.0,267.5 L1691.5,280.0 L1699.0,292.5 L1702.8,303.8 L1696.5,297.5 L1686.5,287.5 L1674.0,283.8 L1664.0,285.0 L1662.8,297.5 L1671.5,307.5 L1681.5,322.5 L1689.0,345.0 L1699.0,362.5 L1709.0,380.0 L1719.0,395.0 M1699.0,287.5 L1719.0,285.0 L1744.0,287.5 L1766.5,287.5 L1769.0,280.0 L1789.0,277.5 L1814.0,282.5 L1831.5,282.5 L1856.5,275.0 L1864.0,271.2 M1766.5,287.5 L1769.0,312.5 L1761.5,325.0 L1754.0,330.0 L1746.5,342.5 L1731.5,346.2 L1721.5,338.8 L1711.5,342.5 L1706.5,351.2 L1696.5,353.8 M1746.5,343.8 L1764.0,350.0 L1779.0,355.0 L1794.0,347.5 L1809.0,357.5 L1794.0,366.2 L1804.0,375.0 L1816.5,382.5 L1821.5,390.0 L1831.5,395.0 L1844.0,395.0 L1844.0,386.2 L1859.0,385.0 L1874.0,387.5 L1886.5,383.8 L1896.5,388.8 L1899.0,398.8 L1902.8,392.5 L1919.0,395.0 L1934.0,396.2 L1946.5,397.5 L1960.2,400.0 M1779.0,355.0 L1776.5,367.5 L1764.0,380.0 L1756.5,387.5 L1744.0,393.8 L1729.0,393.8 L1716.5,397.5 L1701.5,407.5 L1684.0,411.2 L1679.0,410.0 M1729.0,393.8 L1736.5,410.0 L1741.5,425.0 L1749.0,440.0 L1751.5,445.0 L1734.0,455.0 L1721.5,461.2 L1704.0,457.5 L1686.5,447.5 L1669.0,448.8 L1666.5,435.0 M1831.5,395.0 L1834.0,410.0 L1839.0,422.5 L1856.5,421.2 L1876.5,425.0 L1889.0,427.5 L1892.8,440.0 L1891.5,452.5 L1884.0,460.0 L1880.2,470.0 L1896.5,478.8 M1834.0,410.0 L1819.0,411.2 L1806.5,415.0 L1799.0,427.5 L1804.0,435.0 L1801.5,447.5 L1814.0,462.5 L1829.0,475.0 L1841.5,477.5 L1851.5,480.0 L1861.5,502.5 M1749.0,440.0 L1766.5,447.5 L1784.0,448.8 L1801.5,447.5 M1745.2,421.2 L1749.0,410.0 L1759.0,415.0 L1774.0,411.2 L1789.0,413.8 L1799.0,423.8 M1751.5,445.0 L1754.0,462.5 L1752.8,487.5 L1759.0,487.5 L1769.0,497.5 L1784.0,502.5 L1799.0,496.2 L1819.0,486.2 L1841.5,490.0 L1841.5,477.5 M1752.8,490.0 L1739.0,492.5 L1729.0,497.5 L1734.0,507.5 L1746.5,517.5 L1736.5,522.5 L1739.0,540.0 L1746.5,540.0 L1754.0,562.5 L1749.0,577.5 M1784.0,502.5 L1791.5,510.0 L1774.0,517.5 L1759.0,521.2 L1769.0,528.8 L1769.0,540.0 L1775.2,542.5 L1774.0,560.0 L1769.0,570.0 L1770.2,585.0 M1669.0,448.8 L1671.5,462.5 L1684.0,470.0 L1696.5,477.5 L1691.5,485.0 L1689.0,500.0 L1696.5,515.0 L1696.5,530.0 L1689.0,547.5 L1684.0,560.0 L1669.0,567.5 L1659.0,575.0 M1696.5,530.0 L1714.0,537.5 L1721.5,525.0 L1726.5,540.0 L1739.0,540.0 M1691.5,485.0 L1711.5,485.0 L1712.8,495.0 L1724.0,502.5 L1729.0,515.0 L1739.0,527.5 M1716.5,550.0 L1721.5,562.5 L1724.0,570.0 L1731.5,577.5 M1684.0,560.0 L1701.5,557.5 L1706.5,577.5 L1710.2,595.0 M1659.0,490.0 L1674.0,490.0 L1689.0,486.2 M1837.8,298.8 L1849.0,293.8 L1856.5,277.5 M1837.8,298.8 L1841.5,315.0 L1849.0,327.5 L1854.0,341.2 L1869.0,346.2 L1876.5,365.0 L1886.5,382.5 M1849.0,327.5 L1864.0,325.0 L1879.0,322.5 L1894.0,335.0 L1905.2,340.0 L1924.0,336.2 L1941.5,341.2 L1946.5,355.0 L1960.2,372.5 M1894.0,325.0 L1909.0,327.5 L1934.0,325.0 L1949.0,321.2 L1966.5,320.0 L1979.0,326.2 M1859.0,278.8 L1871.5,290.0 L1886.5,296.2 L1896.5,303.8 L1894.0,325.0 L1905.2,340.0 M1896.5,303.8 L1909.0,282.5 L1919.0,273.8 L1926.5,265.0 L1930.2,252.5 L1916.5,247.5 L1911.5,225.0 L1899.0,218.8 M1930.2,252.5 L1941.5,262.5 L1946.5,250.0 L1969.0,260.0 L1986.5,266.2 L2006.5,280.0 L2014.0,282.5 M1606.0,247.5 L1608.5,255.0 L1598.5,260.0 L1608.5,266.2 L1616.0,267.5 L1618.5,280.0 L1624.8,290.0 L1616.0,297.5 L1611.0,305.0 L1608.5,312.5 L1636.0,306.2 L1659.0,297.5 M1563.5,270.0 L1566.0,290.0 L1563.5,300.0 L1571.0,315.0 L1578.5,327.5 L1583.5,345.0 L1583.5,352.5 L1576.0,355.0 L1568.5,365.0 L1566.0,375.0 L1571.0,387.5 L1578.5,395.0 L1596.0,402.5 L1608.5,405.0 L1623.5,406.2 M1583.5,352.5 L1588.5,370.0 L1596.0,387.5 L1606.0,397.5 M1608.5,312.5 L1588.5,322.5 L1586.0,340.0 L1583.5,345.0 M1636.0,306.2 L1633.5,320.0 L1646.0,335.0 L1648.5,355.0 L1656.0,370.0 L1659.0,385.0 M1506.0,368.8 L1518.5,377.5 L1536.0,385.0 L1541.0,393.8 L1537.2,402.5 L1533.5,417.5 L1541.0,427.5 L1553.5,435.0 L1568.5,433.8 L1581.0,432.5 L1596.0,440.0 L1603.5,445.0 M1541.0,393.8 L1556.0,387.5 L1568.5,395.0 L1576.0,402.5 L1591.0,410.0 L1606.0,417.5 L1618.5,426.2 M1438.5,427.5 L1441.0,440.0 L1451.0,445.0 L1468.5,450.0 L1476.0,447.5 L1471.0,442.5 L1481.0,435.0 L1486.0,440.0 L1496.0,440.0 L1506.0,450.0 L1513.5,460.0 L1523.5,467.5 L1528.5,472.5 L1518.5,475.0 L1506.0,477.5 L1508.5,490.0 L1511.0,500.0 L1513.5,510.0 L1503.5,512.5 L1491.0,505.0 L1481.0,497.5 L1471.0,485.0 L1458.5,482.5 L1451.0,467.5 L1441.0,445.0 M1518.5,442.5 L1513.5,455.0 L1521.0,462.5 L1533.5,467.5 L1546.0,475.0 L1558.5,470.0 M1533.5,417.5 L1528.5,432.5 L1518.5,442.5 L1531.0,435.0 L1546.0,430.0 M1324.8,447.5 L1328.5,467.5 L1331.0,482.5 L1333.5,497.5 L1331.0,512.5 L1336.0,530.0 L1341.0,540.0 L1348.5,547.5 M1333.5,498.8 L1351.0,498.8 L1353.5,512.5 L1366.0,505.0 L1372.2,482.5 L1374.8,500.0 L1383.5,507.5 L1391.0,517.5 L1393.5,522.5 L1401.0,517.5 L1396.0,530.0 L1386.0,536.2 M1348.5,510.0 L1352.2,525.0 L1358.5,540.0 M1393.5,522.5 L1408.5,515.0 L1413.5,505.0 L1411.0,490.0 L1423.5,488.8 L1426.0,495.0 L1433.5,492.5 L1436.0,475.0 L1446.0,480.0 L1456.0,485.0 M1261.0,532.5 L1278.5,530.0 L1298.5,527.5 L1306.0,522.5 L1313.5,516.2 L1331.0,513.8 M1313.5,516.2 L1318.5,530.0 L1321.0,542.5 L1328.5,555.0 M1251.0,527.5 L1253.5,537.5 L1261.0,532.5 M1186.0,502.5 L1193.5,507.5 L1198.5,520.0 L1206.0,530.0 L1208.5,542.5 L1216.0,552.5 L1218.5,570.0 L1208.5,572.5 L1196.0,577.5 L1193.5,585.0 L1206.0,592.5 L1221.0,600.0 L1231.0,610.0 L1243.5,605.0 M1218.5,570.0 L1236.0,572.5 L1256.0,577.5 L1268.5,580.0 M1221.0,550.0 L1223.5,546.2 L1241.0,545.0 L1258.5,550.0 L1261.0,560.0 L1256.0,577.5 M1446.0,541.2 L1453.5,552.5 L1448.5,570.0 L1451.0,575.0 L1463.5,570.0 L1478.5,565.0 L1476.0,550.0 L1473.5,543.8 M1478.5,565.0 L1481.0,580.0 L1491.0,590.0 L1508.5,585.0 L1518.5,590.0 L1521.0,577.5 L1531.0,570.0 M1463.5,575.0 L1451.0,585.0 L1433.5,590.0 L1421.0,600.0 L1418.5,612.5 L1411.0,620.0 L1386.0,617.5 L1371.0,605.0 L1361.0,580.0 M1421.0,600.0 L1423.5,620.0 L1418.5,630.0 L1431.0,642.5 L1441.0,655.0 L1441.0,670.0 M1386.0,595.0 L1403.5,596.2 L1421.0,600.0 M1501.0,600.0 L1508.5,610.0 L1516.0,622.5 L1511.0,637.5 L1501.0,650.0 L1498.5,665.0 M1491.0,590.0 L1476.0,605.0 L1471.0,622.5 L1471.0,642.5 L1466.0,662.5 M1463.5,600.0 L1448.5,617.5 L1438.5,627.5 L1431.0,642.5 M1531.0,570.0 L1546.0,566.2 L1558.5,555.0 L1561.0,540.0 L1571.0,530.0 L1576.0,512.5 L1581.0,500.0 M1576.0,502.5 L1583.5,530.0 L1591.0,535.0 L1611.0,540.0 L1631.0,545.0 L1646.0,555.0 L1659.0,562.5 M1581.0,500.0 L1591.0,495.0 L1601.0,492.5 L1596.0,490.0 M1621.0,472.5 L1623.5,495.0 L1628.5,507.5 L1626.0,520.0 L1633.5,530.0 L1646.0,535.0 L1643.5,517.5 L1651.0,515.0 L1653.5,502.5 M1561.0,540.0 L1566.0,560.0 L1563.5,577.5 L1568.5,590.0 L1573.5,600.0 L1572.2,615.0 M1518.5,590.0 L1526.0,577.5 L1541.0,571.2 M1361.0,627.5 L1376.0,630.0 L1386.0,640.0 L1398.5,645.0 L1411.0,640.0 L1418.5,630.0 M1296.0,592.5 L1298.5,605.0 L1308.5,617.5 L1313.5,627.5 L1306.0,630.0 L1298.5,635.0 L1301.0,647.5 L1306.0,662.5 L1326.0,660.0 L1341.0,665.0 M1186.0,525.0 L1191.0,540.0 L1196.0,552.5 L1206.0,557.5 L1221.0,550.0 M1196.0,577.5 L1201.0,585.0 L1213.5,590.0 M1386.0,640.0 L1383.5,655.0 L1393.5,670.0 M1446.0,480.0 L1438.5,462.5 L1436.0,475.0 M1498.5,525.0 L1496.0,510.0 L1491.0,505.0 M738.0,513.8 L734.2,527.5 L723.0,525.0 L713.0,530.0 M713.0,641.2 L725.5,640.0 L734.2,646.2 L750.5,645.0 L765.5,641.2 L775.5,655.0 L795.5,653.8 L799.2,645.0 L800.5,632.5 L820.5,635.0 M799.2,650.0 L818.0,657.5 L833.0,666.2 L836.8,672.5 L830.5,692.5 L838.0,705.0 L843.0,720.0 L850.5,730.0 L849.2,752.5 L851.8,762.5 L848.0,775.0 M713.0,740.0 L728.0,747.5 L745.5,752.5 L763.0,755.0 L778.0,765.0 L785.5,775.0 M771.8,746.2 L775.5,760.0 L785.5,755.0 L795.5,760.0 L800.5,752.5 L813.0,760.0 L823.0,765.0 L833.0,770.0 L848.0,775.0 L863.0,772.5 L878.0,780.0 L885.5,787.5 L898.0,790.0 L908.0,787.5 L913.0,771.2 L925.5,775.0 L938.0,772.5 L953.0,765.0 L968.0,762.5 M713.0,802.5 L728.0,795.0 L740.5,787.5 L755.5,787.5 L763.0,790.0 L765.5,797.5 L775.5,790.0 L788.0,780.0 M713.0,830.0 L728.0,827.5 L743.0,827.5 L763.0,832.5 L775.5,830.0 L780.5,842.5 L778.0,857.5 L785.5,875.0 L783.0,887.5 L788.0,902.5 M720.5,860.0 L730.5,870.0 L725.5,885.0 L738.0,895.0 M948.0,617.5 L963.0,627.5 L973.0,642.5 L988.0,655.0 L1008.0,660.0 L1023.0,667.5 L1028.0,672.5 L1023.0,680.0 L1016.8,685.0 L1020.5,697.5 L1013.0,705.0 L1020.5,712.5 L1008.0,720.0 L998.0,727.5 L990.5,735.0 L980.5,732.5 M1028.0,672.5 L1040.5,662.5 L1043.0,655.0 L1048.0,660.0 L1058.0,650.0 L1063.0,640.0 L1070.5,627.5 M978.0,765.0 L995.5,757.5 L1003.0,765.0 L1023.0,757.5 L1035.5,747.5 M913.0,835.0 L925.5,830.0 L943.0,820.0 L963.0,817.5 L983.0,812.5 L995.5,807.5 L1005.5,810.0 L1010.5,822.5 L1020.5,825.0 M938.0,830.0 L953.0,845.0 L960.5,860.0 L973.0,870.0 L988.0,885.0 L993.0,890.0 L1013.0,885.0 M960.5,855.0 L945.5,860.0 L943.0,877.5 L928.0,885.0 M853.0,910.0 L863.0,887.5 L870.5,867.5 L888.0,860.0 L898.0,852.5 L913.0,860.0 M1100.5,487.5 L1103.0,502.5 L1113.0,515.0 L1133.0,525.0 L1148.0,532.5 L1153.0,550.0 L1155.5,567.5 L1145.5,590.0 L1150.5,595.0 M1143.0,467.5 L1148.0,480.0 L1145.5,492.5 L1160.5,495.0 L1163.0,515.0 L1168.0,537.5 L1175.5,560.0 L1180.5,575.0 L1186.0,580.0 M1073.0,590.0 L1088.0,592.5 L1110.5,595.0 L1113.0,605.0 L1123.0,600.0 L1128.0,590.0 L1138.0,587.5 L1150.5,595.0 L1163.0,592.5 L1175.5,595.0 M1138.0,612.5 L1135.5,632.5 L1143.0,650.0 L1153.0,660.0 M1140.5,612.5 L1143.0,595.0 M1163.0,617.5 L1158.0,632.5 L1160.5,645.0 L1170.5,650.0 M267.5,730.0 L282.5,725.0 L297.5,723.8 L315.0,730.0 L332.5,732.5 L347.5,738.8 L365.0,735.0 L380.0,730.0 L395.0,720.0 L412.5,715.0 L422.5,715.0 L430.0,727.5 L442.5,730.0 L452.5,740.0 L460.0,741.2 M297.5,723.8 L296.2,740.0 L300.0,755.0 L295.0,765.0 L307.5,771.2 L325.0,772.5 L337.5,775.0 L357.5,773.8 L377.5,772.5 L390.0,760.0 L402.5,755.0 L412.5,760.0 L425.0,750.0 L437.5,740.0 L452.5,740.0 M307.5,771.2 L302.5,785.0 L291.2,797.5 L282.5,805.0 L278.8,820.0 L278.8,842.5 L290.0,852.5 L307.5,857.5 L322.5,870.0 L333.8,882.5 L337.5,902.5 L342.5,920.0 L350.0,932.5 L352.5,945.0 L360.0,957.5 L362.5,972.5 L360.0,990.0 L367.5,1007.5 L372.5,1022.5 M291.2,797.5 L302.5,807.5 L315.0,815.0 L327.5,818.8 L342.5,813.8 L355.0,812.5 L365.0,817.5 L375.0,812.5 L382.5,805.0 L397.5,800.0 L400.0,805.0 L415.0,815.0 L427.5,825.0 L435.0,830.0 L432.5,835.0 L445.0,845.0 L455.0,852.5 L463.8,860.0 M332.5,775.0 L340.0,785.0 L347.5,790.0 L350.0,800.0 L357.5,801.2 L355.0,812.5 M327.5,818.8 L335.0,832.5 L345.0,842.5 L357.5,852.5 L367.5,860.0 L370.0,872.5 L370.0,887.5 L375.0,900.0 L387.5,910.0 L385.0,920.0 L395.0,927.5 L407.5,935.0 L410.0,945.0 L402.5,960.0 L400.0,975.0 L390.0,985.0 L390.0,997.5 L380.0,1010.0 L377.5,1020.0 M270.0,828.8 L278.8,828.8 M557.5,717.5 L565.0,710.0 L567.5,695.0 L572.5,685.0 L575.0,665.0 L590.0,658.8 M557.5,717.5 L562.5,730.0 L572.5,741.2 L590.0,740.0 L607.5,732.5 L625.0,728.8 L632.5,732.5 L632.5,725.0 L645.0,707.5 L652.5,700.0 L655.0,685.0 L650.0,670.0 L665.0,665.0 L667.5,657.5 L677.5,662.5 L685.0,677.5 L682.5,690.0 L665.0,702.5 L662.5,715.0 L677.5,722.5 L697.5,725.0 M572.5,741.2 L562.5,755.0 L547.5,772.5 L525.0,787.5 L522.5,795.0 L525.0,802.5 L512.5,797.5 L502.5,801.2 L497.5,792.5 L490.0,786.2 M632.5,732.5 L642.5,750.0 L650.0,767.5 L650.0,782.5 L655.0,787.5 L670.0,790.0 L690.0,797.5 L713.0,802.5 M655.0,788.8 L652.5,802.5 L660.0,817.5 L670.0,822.5 L675.0,837.5 L680.0,842.5 L692.5,847.5 L690.0,862.5 L680.0,860.0 L675.0,867.5 L652.5,872.5 L650.0,885.0 L650.0,897.5 M680.0,842.5 L697.5,835.0 L713.0,832.5 M713.0,887.5 L697.5,870.0 L685.0,882.5 L677.5,892.5 L685.0,902.5 L692.5,910.0 L700.0,920.0 M627.5,600.0 L637.5,610.0 L650.0,620.0 L665.0,617.5 L672.5,630.0 L682.5,635.0 L690.0,645.0 L700.0,635.0 L713.0,640.0 M625.0,620.0 L635.0,627.5 L642.5,637.5 L640.0,650.0 L630.0,635.0 L615.0,637.5 M680.0,560.0 L690.0,572.5 L702.5,587.5 L707.5,600.0 L705.0,615.0 L713.0,622.5 M438.8,895.0 L452.5,900.0 L467.5,905.0 L475.0,920.0 L482.5,930.0 L485.0,942.5 L490.0,957.5 L497.5,972.5 L507.5,985.0 M527.5,868.8 L517.5,887.5 L515.0,910.0 L513.8,935.0 L500.0,945.0 L495.0,960.0 L497.5,972.5 M513.8,935.0 L522.5,945.0 L530.0,957.5 L540.0,962.5 L542.5,972.5 L547.5,957.5 L557.5,940.0 L570.0,930.0 L575.0,915.0 L575.0,897.5 M430.0,922.5 L440.0,930.0 L450.0,945.0 L465.0,955.0 L477.5,962.5 L495.0,970.0 M430.0,960.0 L445.0,970.0 L465.0,977.5 L480.0,982.5 L500.0,985.0 L507.5,985.0 L510.0,980.0 L530.0,965.0 L540.0,962.5 M425.0,990.0 L440.0,997.5 L457.5,1005.0 L465.0,1010.0 L477.5,1015.0 L490.0,1022.5 L505.0,1027.5 L512.5,1035.0 L535.0,1032.5 M465.0,1002.5 L477.5,995.0 L495.0,997.5 L505.0,997.5 L507.5,985.0 M507.5,997.5 L512.5,1010.0 L525.0,1020.0 L535.0,1032.5 L540.0,1025.0 L535.0,1007.5 L537.5,990.0 L543.8,982.5 L542.5,972.5 M543.8,982.5 L560.0,977.5 L582.5,975.0 L585.0,970.0 L600.0,972.5 L615.0,972.5 L622.5,982.5 L622.5,997.5 L610.0,1007.5 L592.5,1010.0 L595.0,1022.5 M590.0,907.5 L597.5,920.0 L602.5,940.0 L607.5,957.5 L620.0,972.5 M622.5,982.5 L635.0,972.5 L650.0,962.5 L657.5,960.0 L650.0,957.5 L670.0,950.0 L677.5,952.5 M650.0,925.0 L665.0,935.0 L672.5,952.5 L680.0,960.0 M677.5,952.5 L692.5,945.0 L700.0,932.5 M387.5,1027.5 L400.0,1025.0 L415.0,1030.0 L430.0,1035.0 L452.5,1037.5 L470.0,1045.0 L490.0,1047.5 M540.0,1032.5 L560.0,1035.0 L572.5,1032.5 L590.0,1030.0 L602.5,1027.5 M535.0,1032.5 L542.5,1042.5 L537.5,1050.0 M357.5,1050.0 L350.0,1070.0 L345.0,1087.5 L350.0,1112.5 L365.0,1132.5 L375.0,1152.5 L390.0,1175.0 L400.0,1197.5 L405.0,1217.5 L398.8,1230.0 L410.0,1245.0 L425.0,1257.5 L432.5,1250.0 L430.0,1240.0 L447.5,1215.0 L462.5,1202.5 L475.0,1197.5 M425.0,1257.5 L420.0,1262.5 L385.0,1266.2 L380.0,1275.0 L378.8,1290.0 L383.8,1302.5 L378.8,1312.5 L390.0,1310.0 L402.5,1307.5 L415.0,1300.0 L440.0,1300.0 L452.5,1305.0 L465.0,1307.5 L485.0,1305.0 L492.5,1280.0 M402.5,1307.5 L405.0,1320.0 L400.0,1332.5 L387.5,1342.5 L382.5,1355.0 L395.0,1357.5 L410.0,1347.5 L415.0,1335.0 L430.0,1330.0 L445.0,1335.0 L452.5,1340.0 L457.5,1330.0 M457.5,1350.0 L465.0,1360.0 L460.0,1372.5 L462.5,1380.0 L480.0,1370.0 L495.0,1370.0 L510.0,1375.0 M465.0,1360.0 L477.5,1347.5 L490.0,1345.0 L505.0,1342.5 L520.0,1342.5 L530.0,1350.0 L540.0,1350.0 L545.0,1370.0 L550.0,1375.0 M462.5,1380.0 L472.5,1382.5 L475.0,1397.5 L480.0,1410.0 L472.5,1415.0 L490.0,1412.5 L500.0,1410.0 L505.0,1420.0 M487.5,1385.0 L495.0,1400.0 L497.5,1410.0 M395.0,1417.5 L405.0,1407.5 L420.0,1395.0 L435.0,1385.0 L455.0,1380.0 L462.5,1380.0 M390.0,1400.0 L400.0,1387.5 L415.0,1375.0 M470.0,1167.5 L490.0,1165.0 L515.0,1162.5 L535.0,1167.5 L555.0,1160.0 L575.0,1157.5 L590.0,1160.0 L602.5,1165.0 M515.0,1162.5 L530.0,1175.0 L545.0,1185.0 L555.0,1190.0 L565.0,1185.0 M492.5,1222.5 L510.0,1212.5 L530.0,1210.0 L542.5,1212.5 L555.0,1202.5 L565.0,1190.0 L580.0,1185.0 M542.5,1212.5 L552.5,1225.0 L562.5,1227.5 L560.0,1247.5 L557.5,1262.5 L560.0,1272.5 M555.0,1205.0 L585.0,1205.0 L615.0,1202.5 L630.0,1205.0 M590.0,1225.0 L585.0,1240.0 L580.0,1257.5 L572.5,1267.5 L560.0,1272.5 L550.0,1280.0 M590.0,1225.0 L607.5,1225.0 L620.0,1230.0 L635.0,1235.0 M572.5,1267.5 L595.0,1265.0 L615.0,1257.5 L630.0,1250.0 L645.0,1242.5 M552.5,1280.0 L575.0,1275.0 L597.5,1275.0 L617.5,1270.0 L627.5,1280.0 L615.0,1285.0 L620.0,1297.5 L627.5,1302.5 M585.0,1320.0 L585.0,1350.0 L595.0,1365.0 L605.0,1375.0 L610.0,1370.0 L620.0,1375.0 L630.0,1367.5 L632.5,1355.0 L622.5,1345.0 L612.5,1337.5 L615.0,1330.0 M632.5,1355.0 L650.0,1365.0 L655.0,1375.0 M595.0,1397.5 L610.0,1395.0 L620.0,1387.5 L630.0,1377.5 L637.5,1367.5 M565.0,1417.5 L570.0,1430.0 L575.0,1450.0 L577.5,1460.0 M402.5,1475.0 L420.0,1472.5 L440.0,1475.0 L455.0,1465.0 L465.0,1460.0 L480.0,1460.0 L490.0,1465.0 M405.0,1490.0 L425.0,1487.5 L445.0,1480.0 L465.0,1490.0 L480.0,1487.5 L490.0,1480.0 M440.0,1525.0 L452.5,1510.0 L470.0,1500.0 L485.0,1495.0 L505.0,1487.5 L512.5,1500.0 L510.0,1510.0 L485.0,1515.0 L480.0,1525.0 L472.5,1540.0 M490.0,1480.0 L505.0,1487.5 L515.0,1480.0 L530.0,1487.5 L550.0,1490.0 M512.5,1500.0 L527.5,1502.5 L540.0,1510.0 L550.0,1512.5 M412.5,1612.5 L430.0,1625.0 L440.0,1638.8 L462.5,1631.2 L485.0,1636.2 L505.0,1638.8 L520.0,1637.5 L540.0,1635.0 L551.2,1633.8 M510.0,1645.0 L505.0,1660.0 L512.5,1665.0 L510.0,1677.5 L517.5,1685.0 M420.0,1690.0 L435.0,1700.0 L428.8,1712.5 L442.5,1725.0 L455.0,1727.5 L467.5,1740.0 L487.5,1735.0 L492.5,1745.0 L507.5,1740.0 L510.0,1727.5 L520.0,1722.5 L523.8,1707.5 L518.8,1697.5 M450.0,1707.5 L465.0,1702.5 L480.0,1707.5 L495.0,1705.0 L510.0,1700.0 L518.8,1697.5 M467.5,1740.0 L455.0,1752.5 L442.5,1765.0 L452.5,1780.0 L465.0,1782.5 L475.0,1782.5 L487.5,1787.5 L490.0,1800.0 L497.5,1812.5 L492.5,1815.0 M497.5,1812.5 L510.0,1797.5 L515.0,1777.5 L522.5,1757.5 L525.0,1742.5 L535.0,1740.0 M525.0,1757.5 L540.0,1762.5 L552.5,1762.5 L552.5,1775.0 L542.5,1777.5 L547.5,1787.5 L547.5,1807.5 M497.5,1812.5 L507.5,1825.0 L515.0,1842.5 L520.0,1847.5 L535.0,1845.0 L546.2,1847.5 M400.0,1860.0 L412.5,1852.5 L430.0,1850.0 L445.0,1852.5 L457.5,1860.0 L465.0,1875.0 L472.5,1885.0 L482.5,1872.5 L497.5,1875.0 L510.0,1867.5 L515.0,1850.0 L520.0,1847.5 M457.5,1952.5 L475.0,1955.0 L490.0,1955.0 L510.0,1950.0 L527.5,1950.0 L532.5,1947.5 M532.5,1947.5 L525.0,1960.0 L520.0,1975.0 L515.0,1990.0 M430.0,1790.0 L442.5,1782.5 M570.0,1800.0 L592.5,1790.0 L605.0,1777.5 L625.0,1770.0 L640.0,1767.5 L647.5,1760.0 M570.0,1800.0 L577.5,1810.0 L575.0,1820.0 L582.5,1822.5 M560.0,1745.0 L552.5,1762.5 M595.0,1677.5 L607.5,1676.2 L620.0,1685.0 L625.0,1697.5 L631.2,1700.0 L623.8,1710.0 L622.5,1725.0 L622.5,1735.0 L635.0,1743.8 M581.5,1582.3 L591.0,1585.5 L603.7,1583.9 L616.4,1587.1 L629.0,1591.9 L638.6,1593.4 L646.5,1587.1 M581.5,1591.9 L591.0,1598.2 L603.7,1601.4 L611.6,1607.7 L619.5,1614.0 L624.3,1615.6 M594.2,1501.5 L593.4,1509.4 L591.0,1517.3 L597.3,1526.8 L602.1,1523.7 L605.3,1514.2 L603.7,1503.1 L597.3,1499.9 M605.3,1514.2 L606.8,1525.3 L603.7,1536.4 L600.5,1545.9 L602.1,1552.2 M616.4,1511.0 L611.6,1520.5 L608.4,1531.6 M619.5,1487.2 L632.2,1482.4 L644.9,1479.3 M641.7,1501.5 L654.4,1506.2 L667.1,1511.0 L676.6,1507.8 L686.1,1514.2 L694.0,1523.7 M671.9,1476.1 L675.0,1485.6 L679.8,1495.1 M480.0,1488.8 L492.7,1485.6 L503.8,1479.3 L513.3,1477.7 L516.5,1485.6 L511.7,1493.5 L513.3,1503.1 L499.0,1504.6 L486.3,1507.8 L480.0,1511.0 M516.5,1485.6 L532.3,1488.8 L546.6,1492.0 L551.3,1503.1 M480.0,1536.4 L495.9,1534.8 L508.5,1536.4 L521.2,1533.2 L533.9,1526.8 M480.0,1563.3 L495.9,1560.1 L511.7,1557.0 L524.4,1558.6 L527.6,1564.9 M480.0,1583.9 L492.7,1582.3 L507.0,1585.5 L521.2,1582.3 L533.9,1579.2 L543.4,1579.2 M480.0,1612.5 L492.7,1606.1 L507.0,1604.5 L521.2,1601.4 L522.8,1591.9 L533.9,1588.7 L543.4,1591.9 M521.2,1601.4 L519.6,1614.0 L518.1,1628.3 M480.0,1641.0 L495.9,1644.2 L508.5,1647.3 L524.4,1642.6 L540.3,1644.2 L549.8,1637.8 M508.5,1647.3 L505.4,1660.0 L511.7,1669.5 L510.1,1682.2 L516.5,1685.4 L526.0,1679.1 L540.3,1679.1 M687.7,1469.8 L702.0,1466.6 L714.7,1469.8 L727.3,1468.2 L736.9,1482.4 L749.5,1474.5 L755.9,1469.8 M768.6,1439.6 L771.7,1452.3 L765.4,1463.4 L771.7,1476.1 L770.2,1492.0 L773.3,1507.8 L780.0,1518.9 M749.5,1428.5 L746.4,1444.4 L740.0,1452.3 L727.3,1439.6 L714.7,1442.8 L702.0,1453.9 L689.3,1452.3 L682.9,1444.4 L672.6,1446.8 M1060.0,647.5 L1062.5,667.5 L1072.5,680.0 L1080.0,692.5 M1072.5,697.5 L1065.0,715.0 L1062.5,727.5 L1052.5,735.0 L1037.5,745.0 L1025.0,757.5 M1062.5,727.5 L1080.0,730.0 L1092.5,728.8 L1097.5,740.0 M1052.5,735.0 L1060.0,750.0 L1075.0,755.0 L1087.5,757.5 L1100.0,757.5 M1095.0,775.0 L1100.0,792.5 L1110.0,802.5 L1122.5,812.5 L1135.0,810.0 L1150.0,805.0 L1162.5,802.5 M1095.0,775.0 L1110.0,770.0 L1120.0,772.5 L1130.0,770.0 M1040.0,790.0 L1042.5,810.0 L1060.0,827.5 L1072.5,855.0 L1085.0,877.5 M1060.0,827.5 L1080.0,812.5 L1082.5,795.0 L1067.5,780.0 L1057.5,775.0 M1082.5,795.0 L1100.0,802.5 L1117.5,812.5 L1120.0,827.5 L1107.5,840.0 L1107.5,860.0 L1105.0,877.5 M1017.5,795.0 L1022.5,815.0 L1020.0,840.0 L1025.0,847.5 L1017.5,860.0 L1015.0,882.5 L1022.5,902.5 L1015.0,927.5 L1020.0,940.0 L1005.0,950.0 M1000.0,885.0 L1012.5,883.8 M1172.5,690.0 L1170.0,707.5 L1185.0,715.0 L1192.5,702.5 L1190.0,687.5 L1200.0,685.0 L1202.5,667.5 L1202.5,647.5 M1170.0,707.5 L1167.5,725.0 L1155.0,725.0 L1142.5,737.5 L1150.0,752.5 L1165.0,750.0 L1152.5,760.0 L1135.0,767.5 L1130.0,770.0 M1185.0,715.0 L1182.5,732.5 L1190.0,752.5 L1192.5,770.0 L1185.0,787.5 L1177.5,800.0 L1165.0,802.5 M1200.0,715.0 L1215.0,702.5 L1225.0,697.5 L1237.5,715.0 L1230.0,732.5 L1222.5,750.0 L1227.5,765.0 L1240.0,762.5 L1260.0,767.5 L1265.0,757.5 L1282.5,755.0 M1225.0,700.0 L1240.0,697.5 L1250.0,712.5 L1257.5,732.5 L1272.5,747.5 L1282.5,745.0 L1287.5,750.0 L1305.0,745.0 L1297.5,727.5 L1305.0,722.5 L1297.5,710.0 L1287.5,697.5 M1235.0,780.0 L1242.5,800.0 L1232.5,797.5 L1227.5,815.0 L1222.5,827.5 M1237.5,772.5 L1250.0,762.5 M1282.5,755.0 L1292.5,772.5 L1297.5,787.5 L1295.0,802.5 L1280.0,812.5 L1265.0,810.0 L1252.5,817.5 L1237.5,825.0 L1215.0,826.2 M1295.0,802.5 L1310.0,795.0 L1322.5,795.0 M1287.5,697.5 L1300.0,710.0 L1315.0,717.5 L1327.5,727.5 L1337.5,745.0 L1340.0,767.5 M1327.5,727.5 L1347.5,720.0 L1362.5,717.5 M1255.0,677.5 L1265.0,665.0 L1275.0,672.5 L1290.0,667.5 L1310.0,660.0 L1332.5,665.0 L1355.0,660.0 M1290.0,667.5 L1292.5,687.5 L1287.5,697.5 M1370.0,693.8 L1390.0,690.0 L1405.0,686.2 L1415.0,697.5 M1405.0,686.2 L1400.0,670.0 L1410.0,655.0 L1425.0,647.5 L1437.5,640.0 M1440.0,657.5 L1457.5,670.0 L1473.0,665.0 M1000.0,1080.0 L1015.0,1085.0 L1017.5,1097.5 L1022.5,1082.5 L1037.5,1087.5 L1052.5,1092.5 L1060.0,1107.5 L1070.0,1122.5 M1300.0,640.0 L1305.0,655.0 L1310.0,660.0 M922.5,1160.0 L927.5,1145.0 L937.5,1130.0 L950.0,1115.0 L955.0,1105.0 L970.0,1105.0 L977.5,1115.0 L985.0,1092.5 L1000.0,1090.0 L1015.0,1095.0 L1020.0,1080.0 L1035.0,1082.5 L1050.0,1090.0 L1057.5,1105.0 L1072.5,1117.5 L1082.5,1135.0 L1077.5,1145.0 L1085.0,1160.0 L1077.5,1170.0 L1082.5,1182.5 L1070.0,1197.5 M977.5,1115.0 L985.0,1125.0 L1000.0,1132.5 L1002.5,1145.0 L1010.0,1160.0 L1017.5,1170.0 L1020.0,1160.0 L1030.0,1150.0 L1035.0,1152.5 L1077.5,1145.0 M1017.5,1170.0 L1022.5,1177.5 L1015.0,1185.0 L1012.5,1200.0 L1022.5,1210.0 L1032.5,1207.5 L1037.5,1195.0 L1050.0,1190.0 L1052.5,1185.0 L1065.0,1202.5 M1022.5,1210.0 L1020.0,1225.0 L1025.0,1242.5 L1022.5,1252.5 M947.5,1200.0 L950.0,1215.0 L960.0,1232.5 L967.5,1245.0 L970.0,1252.5 M920.0,1260.0 L932.5,1252.5 L950.0,1252.5 L970.0,1252.5 L990.0,1247.5 L1007.5,1252.5 L1022.5,1252.5 L1040.0,1247.5 L1065.0,1245.0 M920.0,1260.0 L925.0,1277.5 L920.0,1292.5 L912.5,1300.0 L915.0,1312.5 L910.0,1325.0 L917.5,1337.5 L915.0,1355.0 L930.0,1360.0 M997.5,1255.0 L1000.0,1275.0 L1000.0,1295.0 L1005.0,1312.5 L1005.0,1330.0 M1000.0,1295.0 L1017.5,1290.0 L1032.5,1285.0 L1047.5,1282.5 L1065.0,1285.0 L1082.5,1282.5 M1040.0,1275.0 L1042.5,1290.0 L1050.0,1305.0 L1057.5,1320.0 L1050.0,1325.0 L1040.0,1340.0 M932.5,1345.0 L940.0,1355.0 L955.0,1350.0 L967.5,1357.5 L975.0,1367.5 M975.0,1385.0 L985.0,1392.5 L1000.0,1395.0 L1015.0,1405.0 M1017.5,920.0 L1020.0,935.0 L1012.5,945.0 M678.8,547.5 L680.0,560.0 L687.5,570.0 L692.5,577.5 L705.0,570.0 L707.5,555.0 L702.5,545.0 L702.5,537.5 L713.0,532.5 M692.5,577.5 L702.5,592.5 L707.5,610.0 L702.5,630.0 L713.0,637.5 M625.0,602.5 L637.5,610.0 L650.0,620.0 L665.0,617.5 L672.5,627.5 L675.0,637.5 L687.5,645.0 L697.5,637.5 L713.0,645.0 M820.5,1396.2 L813.0,1410.0 L808.0,1425.0 L813.0,1428.8 L795.5,1433.8 L770.5,1440.0 L766.8,1455.0 L763.0,1457.5 L770.5,1472.5 L766.8,1482.5 M795.5,1433.8 L800.5,1450.0 L813.0,1457.5 L825.5,1460.0 L840.5,1470.0 L853.0,1475.0 L873.0,1472.5 M893.0,1410.0 L888.0,1422.5 L865.5,1421.2 L870.5,1435.0 L868.0,1447.5 L865.5,1460.0 L873.0,1472.5 L870.5,1485.0 L875.5,1505.0 L878.0,1520.0 L875.5,1537.5 L878.0,1552.5 M713.0,1470.0 L725.5,1472.5 L735.5,1482.5 L745.5,1477.5 L750.5,1470.0 L755.5,1475.0 M766.8,1505.0 L773.0,1517.5 L785.5,1522.5 L803.0,1535.0 L808.0,1545.0 L823.0,1557.5 L838.0,1572.5 L853.0,1570.0 L863.0,1565.0 L865.5,1580.0 L858.0,1585.0 L868.0,1590.0 L873.0,1600.0 M975.5,1385.0 L983.0,1397.5 L1000.5,1405.0 L998.0,1412.5 L1005.5,1427.5 L1008.0,1430.0 M1000.5,1405.0 L1018.0,1402.5 L1035.5,1410.0 L1038.0,1412.5 L1050.5,1395.0 L1035.5,1387.5 L1033.0,1372.5 L1035.5,1347.5 M980.5,1447.5 L1000.5,1442.5 L1013.0,1455.0 L1028.0,1462.5 M1023.0,1207.5 L1035.5,1202.5 L1043.0,1192.5 L1053.0,1187.5 L1063.0,1202.5 M1083.0,1160.0 L1078.0,1172.5 L1083.0,1182.5 L1070.5,1197.5 M933.0,1345.0 L938.0,1352.5 L955.5,1350.0 L968.0,1357.5 L975.5,1367.5 M530.0,1947.5 L522.5,1965.0 L515.0,1982.5 L505.0,2000.0 L503.8,2015.0 L506.2,2035.0" fill="none" stroke="#4f5a58" stroke-width="1.9"/>
</g>
<g stroke="#b2b2b2" stroke-width="1.8" stroke-dasharray="5.9 2.9" fill="none" stroke-linecap="butt">
<path d="M326.25,2189.35 V103.35"/>
<path d="M679.60,2189.35 V103.35"/>
<path d="M1032.95,2189.35 V103.35"/>
<path d="M1386.30,2189.35 V103.35"/>
<path d="M1739.65,2189.35 V103.35"/>
<path d="M2093.00,2189.35 V103.35"/>
<path d="M170.5,240.25 H2106.5"/>
<path d="M170.5,595.64 H2106.5"/>
<path d="M170.5,951.03 H2106.5"/>
<path d="M170.5,1306.42 H2106.5"/>
<path d="M170.5,1661.81 H2106.5"/>
<path d="M170.5,2017.20 H2106.5"/>
</g>
<g fill="#0000ff" stroke="#fff" stroke-width="1.8">
<circle cx="1097.5" cy="601.2" r="11.2"/>
<circle cx="1358.5" cy="550.8" r="11.2"/>
<circle cx="1373.5" cy="541.8" r="11.2"/>
<circle cx="1410.2" cy="550.2" r="11.2"/>
<circle cx="1530.5" cy="523.0" r="11.2"/>
<circle cx="1641.5" cy="479.2" r="11.2"/>
<circle cx="1252.2" cy="698.2" r="11.2"/>
<circle cx="811.2" cy="794.2" r="11.2"/>
<circle cx="818.0" cy="795.5" r="11.2"/>
<circle cx="769.8" cy="817.0" r="11.2"/>
<circle cx="799.2" cy="835.0" r="11.2"/>
<circle cx="741.8" cy="840.8" r="11.2"/>
<circle cx="751.2" cy="895.0" r="11.2"/>
<circle cx="773.0" cy="912.0" r="11.2"/>
<circle cx="779.2" cy="911.2" r="11.2"/>
<circle cx="988.0" cy="787.5" r="11.2"/>
<circle cx="993.0" cy="781.2" r="11.2"/>
<circle cx="998.0" cy="800.0" r="11.2"/>
<circle cx="1046.8" cy="758.0" r="11.2"/>
<circle cx="493.2" cy="1047.5" r="11.2"/>
<circle cx="692.7" cy="972.4" r="11.2"/>
<circle cx="707.8" cy="985.5" r="11.2"/>
<circle cx="736.5" cy="974.0" r="11.2"/>
<circle cx="615.9" cy="1045.8" r="11.2"/>
<circle cx="671.6" cy="1041.8" r="11.2"/>
<circle cx="690.7" cy="1045.8" r="11.2"/>
<circle cx="745.0" cy="1093.0" r="11.2"/>
<circle cx="855.5" cy="1112.2" r="11.2"/>
<circle cx="877.7" cy="1115.2" r="11.2"/>
<circle cx="889.7" cy="1123.2" r="11.2"/>
<circle cx="587.1" cy="1185.5" r="11.2"/>
<circle cx="576.1" cy="1185.5" r="11.2"/>
<circle cx="607.2" cy="1175.5" r="11.2"/>
<circle cx="636.4" cy="1184.5" r="11.2"/>
<circle cx="885.7" cy="1182.5" r="11.2"/>
<circle cx="905.8" cy="1193.6" r="11.2"/>
<circle cx="919.9" cy="1196.6" r="11.2"/>
<circle cx="443.8" cy="1291.0" r="11.2"/>
<circle cx="464.5" cy="1325.0" r="11.2"/>
<circle cx="498.8" cy="1340.0" r="11.2"/>
<circle cx="665.0" cy="1363.0" r="11.2"/>
<circle cx="563.8" cy="1393.8" r="11.2"/>
<circle cx="581.2" cy="1400.5" r="11.2"/>
<circle cx="495.5" cy="1474.2" r="11.2"/>
<circle cx="604.5" cy="1477.0" r="11.2"/>
<circle cx="561.2" cy="1531.8" r="11.2"/>
<circle cx="641.8" cy="1530.8" r="11.2"/>
<circle cx="549.5" cy="1615.5" r="11.2"/>
<circle cx="763.5" cy="1490.0" r="11.2"/>
<circle cx="790.8" cy="1525.8" r="11.2"/>
<circle cx="528.8" cy="1692.5" r="11.2"/>
<circle cx="587.5" cy="1688.8" r="11.2"/>
<circle cx="579.5" cy="1683.8" r="11.2"/>
<circle cx="546.8" cy="1731.8" r="11.2"/>
<circle cx="549.5" cy="1713.2" r="11.2"/>
</g>
<path d="M905.8,956.3 L901.8,970.4 L901.8,986.5 L905.8,1002.6 L899.8,1008.6 L895.7,1022.7 L901.8,1030.7 L907.8,1040.8 L901.8,1048.8 L909.8,1056.9 L919.9,1070.9 L897.8,1075.0 L893.7,1083.0 L877.7,1085.0 L881.7,1091.0 L885.7,1103.1 L897.8,1107.1 L889.7,1111.1 L899.8,1119.2 L901.8,1129.2 L889.7,1137.3 L891.7,1149.3 L901.8,1159.4 L905.8,1171.5 L919.9,1169.5 L929.9,1167.4 L936.0,1175.5 L940.0,1187.5 M940.0,1191.6 L931.9,1197.6 L921.9,1199.6 L909.8,1195.6 L899.8,1191.6 L889.7,1185.5 L881.7,1177.5 L873.6,1169.5 L869.6,1157.4 L857.5,1153.4 L845.5,1147.3 L837.4,1141.3 M829.4,909.1 L831.4,926.2 L823.4,954.3 L809.3,974.4 L799.2,992.5 L791.2,1006.6 L789.2,1022.7 L783.2,1050.8 L777.1,1075.0 L769.1,1097.1 L757.0,1117.2 L749.0,1134.3 L755.0,1151.4 L758.0,1160.0 M758.0,1160.0 L765.1,1180.1 L765.1,1200.2 L761.0,1230.4 L757.0,1256.5 L753.0,1284.6 L749.0,1312.8 L740.9,1340.9 L737.9,1348.0 M831.4,926.2 L845.5,990.5 L847.5,1002.6 L841.5,1040.8 L837.4,1081.0 L830.4,1083.0 L819.3,1107.1 L831.4,1115.2 L839.5,1131.3 L833.4,1143.3 L813.3,1157.4 M813.3,1157.4 L809.3,1166.0 L807.3,1178.1 L795.2,1186.1 L801.3,1200.2 L800.2,1218.3 L799.2,1236.4 L805.3,1244.4 L827.4,1254.5 L830.4,1246.4 L837.4,1241.4 M763.1,1070.9 L777.1,1074.0 L801.3,1077.0 L830.4,1081.0 M834.4,910.1 L859.6,934.2 L857.5,960.4 L853.5,978.5 L837.4,986.5 L819.3,984.5 L811.3,978.5 M837.4,986.5 L847.5,998.6 L873.6,1000.6 L901.8,999.6 M724.9,915.1 L726.9,930.2 L734.9,936.2 L726.9,948.3 L724.9,966.4 L712.8,966.4 L700.7,970.4 L688.7,972.4 L684.6,976.4 L662.5,983.5 L668.6,994.5 L654.5,1002.6 L644.4,1008.6 L640.4,1014.6 L648.5,1020.7 L636.4,1026.7 L620.3,1028.7 L603.2,1031.7 L608.3,1042.8 L612.3,1050.8 L626.3,1048.8 L638.4,1046.8 L650.5,1034.8 L656.5,1033.7 L660.5,1042.8 L672.6,1040.8 L688.7,1046.8 L698.7,1050.8 M698.7,1050.8 L704.8,1056.9 L714.8,1066.9 L724.9,1077.0 L732.9,1087.0 L745.0,1095.1 L757.0,1096.1 L769.1,1093.1 M698.7,1050.8 L696.7,1056.9 L690.7,1083.0 L684.6,1109.1 L692.7,1111.1 L691.7,1128.2 L674.6,1129.2 L671.6,1151.4 L654.5,1153.4 L652.5,1157.4 L628.4,1160.4 L622.3,1147.3 L624.3,1131.3 L628.4,1123.2 L620.3,1117.2 L614.3,1121.2 L626.3,1105.1 L638.4,1099.1 L650.5,1097.1 L672.6,1091.0 L678.6,1095.1 L676.6,1081.0 L664.5,1083.0 L662.5,1070.9 L658.5,1066.9 L664.5,1060.9 L676.6,1056.9 L668.6,1050.8 L656.5,1062.9 L648.5,1068.9 L638.4,1077.0 L634.4,1066.9 L630.4,1058.9 L622.3,1054.9 L626.3,1070.9 L624.3,1083.0 L620.3,1091.0 L612.3,1079.0 L602.2,1079.0 L594.2,1083.0 L596.2,1097.1 L586.1,1091.0 L580.1,1081.0 L578.1,1077.0 L578.1,1089.0 L564.0,1097.1 L570.1,1107.1 L576.1,1111.1 L566.0,1113.2 L568.0,1125.2 L574.1,1127.2 L572.1,1135.3 L586.1,1139.3 L596.2,1145.3 L600.2,1157.4 L612.3,1160.4 L628.4,1160.4 M628.4,1160.4 L636.4,1170.5 L680.6,1171.5 L678.6,1167.4 L757.0,1163.4 M724.9,966.4 L726.9,978.5 L734.9,976.4 L724.9,984.5 L728.9,992.5 L749.0,1002.6 L761.0,1008.6 L777.1,1018.7 L771.1,1022.7 L769.1,1028.7 L761.0,1026.7 L753.0,1034.8 L755.0,1046.8 L761.0,1056.9 L761.0,1066.9 L763.1,1070.9 M779.1,912.1 L778.1,928.2 L789.2,932.2 L787.2,946.3 L777.1,952.3 L773.1,970.4 L765.1,990.5 L753.0,988.5 L749.0,1002.6 M628.4,1160.4 L622.3,1172.1 L626.3,1184.1 L624.3,1198.2 L640.4,1206.2 L644.4,1203.2 L643.4,1216.3 L637.4,1220.3 L638.4,1234.4 L650.5,1240.4 L668.6,1248.5 L660.5,1256.5 L662.5,1268.6 L648.5,1274.6 L656.5,1282.6 L642.4,1286.7 L656.5,1292.7 L666.6,1300.7 L669.6,1308.8 L674.6,1312.8 L680.6,1308.8 L685.7,1304.8 M713.8,1194.2 L740.9,1193.2 L739.9,1187.1 L753.0,1189.2 L765.1,1194.2 L781.1,1204.2 L791.2,1214.3 L800.2,1218.3 M713.8,1194.2 L708.8,1230.4 L700.7,1266.6 L699.7,1273.6 L696.7,1268.6 L687.7,1269.6 L686.7,1284.6 L682.6,1296.7 L685.7,1304.8 L698.7,1316.8 L706.8,1320.8 L709.8,1330.9 L722.8,1316.8 L738.9,1320.8 L748.0,1314.8 L749.0,1312.8 M940.0,1192.2 L933.9,1194.2 L936.0,1205.2 L921.9,1207.2 L905.8,1206.2 L889.7,1212.3 L891.7,1218.3 L877.7,1214.3 L861.6,1212.3 L857.5,1202.2 L855.5,1208.3 L839.5,1210.3 L823.4,1214.3 L819.3,1224.3 L821.4,1226.3 L837.4,1241.4 L851.5,1256.5 L866.6,1254.5 L865.6,1272.6 L859.6,1288.7 L851.5,1304.8 L847.5,1318.8 L839.5,1336.9 L843.5,1347.0 L831.4,1357.0 L835.4,1369.1 L823.4,1371.1 L833.4,1378.1 L825.4,1391.2 M620.3,1315.8 L622.3,1328.9 L616.3,1331.9 L624.3,1347.0 L638.4,1336.9 L648.5,1330.9 L644.4,1326.9 L637.4,1332.9" fill="none" stroke="#000" stroke-width="3.5"/>
<path d="M918.0,638.8 L916.8,650.0 L913.0,660.0 L918.0,669.5 M918.0,668.0 L930.5,690.0 L945.5,700.0 L955.5,712.5 L973.0,727.5 L976.8,742.5 L973.0,760.0 L970.5,772.5 L971.8,782.5 L981.8,791.2 L965.5,789.5 L960.5,800.0 L953.0,805.0 L948.0,813.8 L930.5,816.2 L910.5,820.0 L906.8,835.0 L913.0,855.0 L920.5,882.5 L928.0,900.0 L934.2,920.0 L936.8,937.5 L945.5,957.5 L951.8,980.0 L953.0,992.0 M953.0,992.0 L960.5,970.0 L968.0,955.0 L981.8,945.0 L995.5,951.2 L1008.0,955.0 L1020.5,962.5 L1025.5,960.0 M953.0,992.0 L943.0,992.5 L933.0,980.0 L925.5,970.0 L925.5,957.5 L918.0,950.0 L908.0,952.5 L903.0,962.5 L898.0,942.5 L883.0,935.0 L863.0,930.0 L848.0,925.0 L833.0,920.0 L830.5,907.5 L813.0,906.2 L798.0,905.0 L788.0,908.8 L773.0,911.2 L755.5,913.8 L743.0,916.2 L728.0,913.8 L713.0,917.5 M713.0,917.5 L702.5,920.0 L690.0,923.8 L675.0,918.8 L662.5,916.2 L655.0,907.5 L650.0,900.0 L630.0,902.5 L615.0,901.2 L597.5,897.5 L592.5,901.2 L580.0,896.2 L565.0,891.2 L552.5,885.0 L540.0,872.5 L527.5,867.5 L515.0,850.0 L502.5,837.5 L490.0,830.0 M442.5,685.0 L447.5,712.5 L457.5,735.0 L480.0,755.0 L487.5,780.0 L483.8,805.0 L490.0,830.0 M490.0,830.0 L486.2,835.0 L483.8,845.0 L472.5,852.5 L457.5,865.0 L440.0,870.0 L432.5,877.5 L433.8,890.0 L438.8,905.0 L430.0,917.5 L425.0,932.5 L427.5,952.5 L426.2,972.5 L420.0,987.5 L407.5,1002.5 L395.0,1013.8 L382.5,1020.0 L372.5,1021.2 L357.5,1036.2 L337.5,1047.5 L325.0,1075.0 L315.0,1080.0 L300.0,1098.8 M382.5,1020.0 L390.0,1032.5 L400.0,1052.5 L412.5,1065.0 L420.0,1082.5 L430.0,1100.0 L440.0,1112.5 L447.5,1120.0 L448.8,1137.5 L452.5,1150.0 L460.0,1160.0 M447.5,1120.0 L455.0,1102.5 L465.0,1095.0 L477.5,1090.0 L500.0,1090.0 L507.5,1097.5 L515.0,1107.5 L527.5,1113.8 L542.5,1115.0 L555.0,1120.0 L565.0,1127.5 L575.0,1140.0 M460.0,1160.0 L470.0,1185.0 L480.0,1207.5 L487.5,1222.5 L492.5,1242.5 L490.0,1260.0 L495.0,1273.8 L515.0,1276.2 L537.5,1277.5 L547.5,1285.0 L555.0,1295.0 L567.5,1305.0 L575.0,1317.5 L582.5,1330.0 L583.8,1340.0 L575.0,1350.0 L560.0,1357.5 L550.0,1370.0 L547.5,1376.2 L557.5,1385.0 L560.0,1393.8 L550.0,1400.0 L535.0,1403.8 L520.0,1406.2 L511.2,1407.5 L515.0,1415.0 L517.5,1425.0 L518.8,1428.8 M400.0,1433.8 L415.0,1421.2 L425.0,1426.2 L440.0,1437.5 L455.0,1427.5 L470.0,1415.0 L481.2,1415.0 L483.8,1420.0 L505.0,1421.2 L518.8,1428.8 L535.0,1431.2 L550.0,1433.8 L552.5,1447.5 L557.5,1455.0 L575.0,1460.0 L578.8,1467.5 L590.0,1465.0 L607.5,1458.8 L630.0,1450.0 L650.0,1440.0 L662.5,1436.2 M662.5,1436.2 L670.0,1417.5 L680.0,1405.0 L697.5,1392.5 L707.5,1380.0 L713.0,1367.5 M675.0,1310.0 L650.0,1308.8 L630.0,1311.2 L607.5,1317.5 L590.0,1318.8 L575.0,1317.5 M1088.0,1340.0 L1063.0,1336.2 L1040.5,1337.5 L1030.5,1343.8 L1013.0,1340.0 L993.0,1330.0 L975.5,1322.5 L960.5,1320.0 L943.0,1322.5 L935.5,1332.5 L930.5,1347.5 L923.0,1362.5 L919.2,1382.5 L920.5,1390.0 L910.5,1397.5 L898.0,1412.5 L888.0,1402.5 L873.0,1397.5 L853.0,1393.8 L830.5,1393.8 L808.0,1392.5 L795.5,1387.5 L780.5,1380.0 L763.0,1372.5 L750.5,1362.5 L745.5,1351.2 L738.0,1347.5 L725.5,1357.5 L713.0,1367.5 M1218.5,471.2 L1223.5,480.0 L1227.2,488.8 L1222.2,495.5 L1236.0,498.8 L1247.2,502.5 L1253.5,512.5 L1256.0,525.0 L1268.5,537.5 L1283.5,553.8 L1296.0,570.0 L1308.5,580.0 L1313.5,582.5 L1312.2,590.0 L1316.0,595.0 L1313.5,605.0 L1316.0,610.0 L1326.0,608.8 L1336.0,606.2 L1346.0,615.0 L1351.0,627.5 L1356.0,645.0 L1363.5,660.0 L1368.5,670.0 M1368.5,670.0 L1369.8,680.0 L1368.5,690.0 L1372.2,705.0 L1371.0,716.2 L1362.2,717.5 M1090.5,486.2 L1080.5,495.0 L1073.0,507.5 L1060.5,515.0 L1063.0,530.0 L1069.2,547.5 L1069.2,562.5 L1073.0,580.0 L1069.2,600.0 L1068.0,610.0 L1073.0,625.0 L1085.5,637.5 L1095.5,655.0 L1099.2,669.5 M1071.2,620.0 L1077.0,626.4 L1084.6,631.5 L1091.0,643.0 L1096.1,653.2 L1096.7,663.4 L1103.8,667.2 L1116.5,672.3 L1124.2,681.2 L1116.5,681.2 L1108.9,685.0 L1101.2,677.4 L1093.6,679.3 L1082.1,688.9 L1082.1,695.2 L1089.7,702.9 L1094.8,716.9 L1098.7,729.7 L1101.2,742.4 L1103.1,757.7 L1106.3,766.6 L1117.8,764.7 L1122.9,773.0 L1134.4,783.9 L1142.0,785.8 L1150.9,793.4 L1159.9,798.5 L1165.0,810.0 L1173.9,820.2 L1186.6,821.5 L1196.8,821.5 L1207.0,825.9 M1507.2,537.5 L1511.0,547.5 L1521.0,560.0 L1529.8,571.2 M1497.2,510.0 L1503.5,520.0 M662.3,1438.1 L672.6,1446.8 L665.5,1450.7 L664.7,1458.7 L670.3,1466.6 L679.8,1472.9 L687.7,1477.7 L692.5,1487.2 L700.4,1498.3 L709.9,1501.5 L708.3,1514.2 L705.1,1525.3 L705.1,1537.9 L708.3,1550.6 L714.7,1564.9 L719.4,1577.6 L717.8,1588.7 L713.1,1601.4 L711.5,1614.0 M549.8,1485.6 L552.9,1492.0 L557.7,1498.3 L559.3,1511.0 L563.2,1520.5 L559.3,1526.8 L562.4,1537.9 L565.6,1550.6 L575.1,1560.1 L578.3,1552.2 L587.8,1545.1 L597.3,1552.2 L605.3,1558.6 L610.0,1565.7 L616.4,1563.3 L630.6,1568.1 L635.4,1576.0 L644.9,1583.9 L652.0,1591.9 L656.0,1602.2 M427.5,1595.0 L437.5,1590.0 L442.5,1600.0 L447.5,1612.5 L457.5,1622.5 L472.5,1627.5 L490.0,1628.8 L505.0,1632.5 L520.0,1627.5 L540.0,1623.8 L551.2,1618.8 M549.8,1624.4 L551.3,1617.2 L555.3,1615.6 L559.3,1620.4 L568.8,1628.3 L578.3,1634.7 L589.4,1633.1 L598.9,1628.3 L611.6,1622.0 L622.7,1617.2 L630.6,1610.9 L644.9,1607.7 L656.0,1602.9 L667.1,1602.2 L682.9,1604.5 L698.8,1609.3 L711.5,1614.0 L724.2,1620.4 L736.9,1625.1 L752.7,1628.3 L763.8,1637.8 L768.6,1650.5 L776.5,1660.0 L781.3,1658.4 M549.8,1485.6 L562.4,1479.3 L575.1,1474.5 L589.4,1469.8 L591.0,1465.0" fill="none" stroke="#000" stroke-width="3.9"/>
<path d="M455.5,665.0 L457.0,655.0 L460.5,647.5 L462.5,640.0 L473.8,631.2 L480.0,620.0 L486.2,607.5 L488.8,600.0 L487.0,590.0 L492.5,590.8 L505.0,598.8 L508.8,605.0 L522.5,615.0 L535.0,622.5 L550.0,633.8 L565.0,642.5 L577.5,648.8 L590.0,651.2 L600.0,653.8 L604.5,658.0 L607.5,650.0 L615.0,625.0 L622.5,605.0 L627.0,597.5 L625.0,585.0 L630.0,577.5 L641.2,558.8 L650.0,555.0 L665.0,550.0 L678.8,547.5 L683.8,536.2 L702.5,510.0 L707.5,492.5 L713.0,489.5 L721.8,487.0 L726.8,491.2 L730.5,502.5 L741.8,512.5 L753.0,510.5 L773.0,526.2 L786.8,541.2 L791.8,555.0 L798.0,582.5 L803.0,590.0 L815.5,610.0 L825.5,635.0 L835.5,652.5 L843.0,663.8 L849.2,665.0 L868.0,656.2 L885.5,641.2 L898.0,638.8 L918.0,638.8 L934.2,631.2 L948.0,612.5 L951.8,600.0 L954.2,585.0 L959.2,581.8 L970.5,581.2 L974.2,572.5 L975.5,561.2 L980.5,555.0 L993.0,554.5 L1003.0,547.5 L1016.8,545.5 L1025.5,536.2 L1035.5,538.8 L1043.0,536.2 L1049.2,528.8 L1056.8,522.5 L1060.5,512.5 L1061.8,490.0 L1065.5,484.5 L1088.0,483.0 L1090.5,486.2 L1103.0,483.8 L1115.5,479.5 L1128.0,486.2 L1138.0,475.0 L1141.0,465.0 L1150.5,463.8 L1158.0,468.8 L1170.5,471.2 L1186.0,466.2 L1203.5,463.8 L1212.2,467.5 L1218.5,471.2 L1222.2,463.8 L1236.0,461.2 L1246.0,465.0 L1261.0,460.0 L1273.5,456.2 L1286.0,453.8 L1301.0,448.8 L1316.0,448.0 L1326.0,445.0 L1338.5,442.5 L1351.0,447.5 L1366.0,451.2 L1378.5,445.0 L1391.0,444.5 L1403.5,448.8 L1412.2,446.2 L1416.0,440.0 L1422.2,435.0 L1424.8,427.5 L1432.2,423.8 L1434.8,412.5 L1428.5,407.5 L1426.5,401.2 L1432.2,396.2 L1448.5,392.5 L1461.0,388.8 L1468.5,392.5 L1476.0,383.8 L1484.8,377.5 L1493.5,372.5 L1502.2,365.0 L1503.5,352.5 L1499.8,345.0 L1508.5,335.0 L1511.0,325.0 L1518.5,312.5 L1521.0,300.0 L1528.5,290.0 L1531.0,286.2 L1543.5,286.2 L1553.5,276.2 L1568.5,266.2 L1581.0,255.0 L1583.5,247.5 L1598.5,240.0 L1611.0,241.2 L1626.0,240.0 L1638.5,236.2 L1648.5,227.5 L1656.0,223.8 L1657.2,213.8 L1659.0,212.5 L1669.0,215.0 L1671.5,205.0 L1675.2,197.5 L1686.5,201.2 L1696.5,206.2 L1705.2,211.2 L1719.0,211.2 L1731.5,218.8 L1746.5,217.5 L1764.0,216.2 L1774.0,218.8 L1781.5,220.0 L1782.8,226.2 L1791.5,233.8 L1799.0,245.0 L1805.2,255.0 L1810.2,262.5 L1812.0,273.8 L1821.5,275.0 L1831.5,271.2 L1835.2,268.8 L1849.0,270.0 L1864.0,268.8 L1865.2,257.5 L1860.2,251.2 L1864.0,241.2 L1865.2,230.0 L1870.2,222.5 L1872.0,213.8 L1884.0,214.5 L1890.2,212.5 L1902.8,214.5 L1919.0,215.0 L1925.2,218.8 L1929.0,226.2 L1936.5,233.8 L1945.2,240.0 L1959.0,247.5 L1971.5,247.5 L1984.0,253.8 L1996.5,256.2 L2006.5,262.5 L2009.0,275.0 L2017.0,282.5 L2014.0,292.5 L2018.2,302.5 L2014.0,316.2 L2001.5,318.8 L1989.0,323.8 L1979.0,328.8 L1984.0,343.8 L1979.0,352.5 L1977.8,358.8 L1967.8,363.8 L1962.0,375.0 L1963.5,392.5 L1960.2,402.5 L1949.0,412.5 L1945.2,420.0 L1945.2,440.0 L1949.5,455.0 L1941.5,467.5 L1929.0,471.2 L1919.0,480.0 L1905.2,483.8 L1896.5,480.0 L1889.0,492.5 L1876.5,500.0 L1865.2,502.5 L1862.8,513.8 L1852.8,516.2 L1846.5,511.2 L1834.0,517.5 L1825.2,520.0 L1825.2,526.2 L1816.5,535.0 L1817.8,541.2 L1809.0,550.0 L1799.0,557.5 L1789.0,567.5 L1781.5,575.0 L1780.2,585.5 L1754.0,585.0 L1744.0,578.8 L1731.5,577.0 L1730.2,590.0 L1725.2,596.2 L1706.5,602.5 L1709.0,616.2 L1716.5,620.0 L1719.0,627.5 L1711.5,633.8 L1702.8,628.8 L1691.5,632.5 L1690.2,642.5 L1676.5,647.5 L1666.5,641.2 L1662.8,627.5 L1659.0,626.2 L1648.5,625.0 L1636.0,618.8 L1628.5,610.0 L1624.8,602.5 L1616.0,603.8 L1606.0,608.8 L1596.0,605.0 L1586.0,607.5 L1576.0,612.5 L1561.0,620.0 L1546.0,630.0 L1533.5,637.5 L1521.0,647.5 L1508.5,656.2 L1496.0,667.5 L1496.0,670.0 L1494.8,675.0 L1486.0,680.0 L1473.5,685.0 L1468.5,695.0 L1456.0,693.8 L1446.0,691.2 L1432.2,697.5 L1428.5,707.5 L1411.0,712.5 L1396.0,717.5 L1373.5,722.5 L1362.2,717.5 L1371.0,730.0 L1384.8,740.0 L1378.5,750.0 L1376.0,760.0 L1366.0,767.5 L1358.5,776.2 L1343.5,773.8 L1329.8,778.8 L1328.5,790.0 L1324.8,795.0 L1332.2,807.5 L1326.0,820.0 L1318.5,830.0 L1303.5,833.8 L1302.2,845.0 L1306.0,856.2 L1312.2,862.5 L1308.5,875.0 L1301.0,885.0 L1298.5,895.0 L1286.0,891.2 L1273.5,890.0 L1268.5,880.0 L1258.5,872.5 L1246.0,868.8 L1232.2,866.2 L1223.5,857.5 L1213.5,845.0 L1208.5,830.0 L1204.8,830.0 L1202.2,842.5 L1193.5,852.5 L1186.0,857.5 L1173.0,861.2 L1158.0,875.0 L1138.0,882.5 L1118.0,885.0 L1103.0,880.0 L1095.5,882.5 L1093.0,900.0 L1085.5,910.0 L1070.5,920.0 L1065.5,927.5 L1070.5,940.0 L1068.0,947.5 L1075.5,951.2 L1074.2,962.5 L1063.0,967.5 L1058.0,968.8 L1055.5,957.5 L1038.0,960.0 L1025.5,960.0 L1023.0,965.0 L1035.5,968.8 L1038.0,975.0 L1033.0,982.5 L1040.5,997.5 L1048.0,1010.0 L1050.5,1022.5 L1058.0,1035.0 L1055.5,1045.0 L1045.5,1052.5 L1049.2,1060.0 L1060.5,1067.5 L1063.0,1080.0 L1073.0,1092.5 L1080.5,1105.0 L1085.5,1117.5 L1098.0,1120.0 L1113.0,1122.5 L1125.5,1132.5 L1128.0,1145.0 L1133.0,1160.0 L1133.0,1160.0 L1128.0,1172.5 L1118.0,1177.5 L1108.0,1185.0 L1103.0,1192.5 L1083.0,1197.5 L1065.5,1205.0 L1068.0,1220.0 L1065.5,1235.0 L1065.5,1245.0 L1073.0,1255.0 L1085.5,1265.0 L1086.8,1277.5 L1083.0,1287.5 L1088.0,1302.5 L1093.0,1315.0 L1088.0,1330.0 L1088.0,1340.0 L1093.0,1352.5 L1099.2,1358.8 L1088.0,1372.5 L1090.5,1387.5 L1103.0,1397.5 L1110.5,1405.0 L1123.0,1410.0 L1126.8,1425.0 L1123.0,1440.0 L1123.0,1455.0 L1113.0,1453.8 L1093.0,1450.0 L1080.5,1443.8 L1073.0,1452.5 L1058.0,1460.0 L1040.5,1465.0 L1023.0,1467.5 L1003.0,1470.0 L1001.8,1482.5 L990.5,1480.0 L975.5,1485.0 L965.5,1500.0 L960.5,1520.0 L953.0,1512.5 L943.0,1503.8 L939.2,1505.0 L933.0,1517.5 L928.0,1530.0 L918.0,1540.0 L910.5,1548.8 L898.0,1547.5 L883.0,1552.5 L881.8,1565.0 L884.2,1585.0 L880.5,1600.0 L875.5,1607.5 L869.2,1610.0 L866.8,1622.5 L860.5,1635.0 L848.0,1642.5 L833.0,1643.8 L818.0,1640.0 L810.5,1632.5 L795.5,1637.5 L790.5,1650.0 L790.5,1650.0 L785.5,1657.5 L780.5,1658.8 L773.0,1665.0 L763.0,1675.0 L754.2,1683.8 L750.5,1705.0 L740.5,1711.2 L735.5,1725.0 L728.0,1737.5 L725.5,1750.0 L729.2,1765.0 L728.0,1775.0 L729.2,1780.0 L726.8,1792.5 L733.0,1805.0 L740.5,1820.0 L745.5,1837.5 L755.5,1847.5 L765.5,1853.8 L769.2,1865.0 L770.5,1875.0 L773.0,1897.5 L775.5,1905.0 L774.2,1915.0 L781.8,1927.5 L780.5,1938.8 L770.5,1938.8 L760.5,1943.8 L745.5,1953.8 L730.5,1967.5 L720.5,1980.0 L713.0,1986.2 L713.0,1986.2 L705.0,1991.2 L690.0,1993.8 L676.2,1997.5 L671.2,2007.5 L670.0,2025.0 L662.5,2037.5 L662.5,2050.0 L650.0,2065.0 L642.5,2082.5 L635.0,2092.5 L630.0,2093.8 L625.0,2085.0 L612.5,2081.2 L597.5,2077.5 L592.5,2067.5 L587.5,2052.5 L576.2,2045.0 L570.0,2035.0 L557.5,2030.0 L542.5,2033.8 L530.0,2032.5 L515.0,2037.5 L503.8,2037.5 L502.5,2045.0 L486.2,2050.0 L477.5,2047.5 L465.0,2040.0 L452.5,2027.5 L442.5,2020.0 L431.2,2021.2 L436.2,2012.5 L442.5,1997.5 L450.0,1975.0 L456.2,1955.0 L448.8,1930.0 L445.0,1917.5 L435.0,1905.0 L435.0,1895.0 L425.0,1882.5 L412.5,1870.0 L402.5,1868.8 L400.0,1862.5 L381.2,1850.0 L380.0,1846.2 L387.5,1841.2 L395.0,1832.5 L405.0,1825.0 L420.0,1822.5 L422.5,1815.0 L422.5,1802.5 L428.8,1790.0 L425.0,1770.0 L426.2,1750.0 L422.5,1735.0 L415.0,1722.5 L408.8,1705.0 L417.5,1693.8 L417.5,1682.5 L412.5,1665.0 L405.0,1650.0 L405.0,1650.0 L402.5,1632.5 L407.5,1622.5 L410.0,1612.5 L418.8,1605.0 L427.5,1595.0 L422.5,1580.0 L417.5,1560.0 L410.0,1545.0 L407.5,1520.0 L403.8,1495.0 L400.0,1475.0 L397.5,1455.0 L400.0,1435.0 L396.2,1431.2 L390.0,1410.0 L391.2,1390.0 L385.0,1372.5 L378.8,1355.0 L370.0,1342.5 L360.0,1330.0 L342.5,1323.8 L337.5,1315.0 L327.5,1300.0 L317.5,1287.5 L330.0,1270.0 L327.5,1255.0 L322.5,1240.0 L323.8,1225.0 L315.0,1205.0 L320.0,1185.0 L315.0,1170.0 L306.2,1160.0 L305.0,1160.0 L293.8,1156.2 L290.0,1145.0 L291.2,1132.5 L295.0,1115.0 L298.8,1098.8 L291.2,1096.2 L287.5,1080.0 L291.2,1060.0 L296.2,1035.0 L297.5,1015.0 L302.5,1010.0 L301.2,997.5 L295.0,982.5 L300.0,970.0 L296.2,957.5 L298.8,945.0 L293.8,932.5 L288.8,920.0 L290.0,902.5 L282.5,895.0 L277.5,882.5 L263.8,872.5 L261.2,855.0 L258.8,840.0 L270.0,830.0 L262.5,817.5 L257.5,802.5 L262.5,788.8 L278.8,783.8 L272.5,775.0 L272.5,752.5 L267.5,735.0 L265.0,718.8 L277.5,696.2 L295.0,691.2 L305.0,688.8 L325.0,693.8 L335.0,695.0 L345.0,701.2 L357.5,702.5 L370.0,697.5 L376.2,703.8 L400.0,701.2 L405.0,696.2 L415.0,693.8 L430.0,688.8 L442.5,685.0 L445.0,676.2 L455.0,670.0Z" fill="none" stroke="#000" stroke-width="4.1"/>
</g>
<path d="M528.8,522.0 L707.5,737.5 M687.3,728.8 L707.5,737.5 L702.7,716.0" fill="none" stroke="#696969" stroke-width="4" stroke-linecap="round" stroke-linejoin="round"/>
<path d="M1056.8,451.2 L1208.0,657.0 M1188.3,647.1 L1208.0,657.0 L1204.4,635.3" fill="none" stroke="#696969" stroke-width="4" stroke-linecap="round" stroke-linejoin="round"/>
<path d="M1389.8,238.0 L1627.2,435.5 M1605.8,430.6 L1627.2,435.5 L1618.6,415.3" fill="none" stroke="#696969" stroke-width="4" stroke-linecap="round" stroke-linejoin="round"/>
<path d="M1272.2,953.8 L1039.2,773.8 M1060.9,777.8 L1039.2,773.8 L1048.7,793.6" fill="none" stroke="#696969" stroke-width="4" stroke-linecap="round" stroke-linejoin="round"/>
<path d="M1251.0,1155.2 L653.8,1102.5 M674.2,1094.3 L653.8,1102.5 L672.4,1114.2" fill="none" stroke="#696969" stroke-width="4" stroke-linecap="round" stroke-linejoin="round"/>
<path d="M323.8,1378.8 L615.0,1381.2 M595.3,1391.1 L615.0,1381.2 L595.5,1371.1" fill="none" stroke="#696969" stroke-width="4" stroke-linecap="round" stroke-linejoin="round"/>
<path d="M405.2,1524.7 L490.9,1530.4 M470.7,1539.1 L490.9,1530.4 L472.0,1519.1" fill="none" stroke="#696969" stroke-width="4" stroke-linecap="round" stroke-linejoin="round"/>
<path d="M1013.0,1557.5 L876.8,1475.0 M898.7,1476.6 L876.8,1475.0 L888.3,1493.7" fill="none" stroke="#696969" stroke-width="4" stroke-linecap="round" stroke-linejoin="round"/>
<path d="M903.0,1663.8 L653.8,1530.8 M675.7,1531.2 L653.8,1530.8 L666.3,1548.8" fill="none" stroke="#696969" stroke-width="4" stroke-linecap="round" stroke-linejoin="round"/>
<path d="M812.2,1835.5 L596.2,1823.8 M616.4,1814.8 L596.2,1823.8 L615.3,1834.8" fill="none" stroke="#696969" stroke-width="4" stroke-linecap="round" stroke-linejoin="round"/>
<rect x="442.1" y="456.6" width="121.8" height="63.8" rx="7" ry="7" fill="#fff" fill-opacity="0.85" stroke="#8c8c8c" stroke-width="3.7"/>
<text x="451.6" y="500.8" font-size="47.5" textLength="102.5" lengthAdjust="spacingAndGlyphs">Bello</text>
<rect x="926.6" y="386.1" width="212.8" height="63.5" rx="7" ry="7" fill="#fff" fill-opacity="0.85" stroke="#8c8c8c" stroke-width="3.7"/>
<text x="936.1" y="430.0" font-size="47.5" textLength="192.0" lengthAdjust="spacingAndGlyphs">Girardota</text>
<rect x="1258.8" y="172.1" width="183.6" height="63.8" rx="7" ry="7" fill="#fff" fill-opacity="0.85" stroke="#8c8c8c" stroke-width="3.7"/>
<text x="1267.8" y="217.0" font-size="47.5" textLength="163.1" lengthAdjust="spacingAndGlyphs">Barbosa</text>
<rect x="1177.3" y="955.4" width="275.6" height="62.5" rx="7" ry="7" fill="#fff" fill-opacity="0.85" stroke="#8c8c8c" stroke-width="3.7"/>
<text x="1186.9" y="997.5" font-size="47.5" textLength="255.5" lengthAdjust="spacingAndGlyphs">Copacabana</text>
<rect x="1252.5" y="1132.0" width="196.6" height="64.0" rx="7" ry="7" fill="#fff" fill-opacity="0.85" stroke="#8c8c8c" stroke-width="3.7"/>
<text x="1260.6" y="1177.0" font-size="47.5" textLength="179.8" lengthAdjust="spacingAndGlyphs">Medellín</text>
<rect x="189.1" y="1345.3" width="133.1" height="64.0" rx="7" ry="7" fill="#fff" fill-opacity="0.85" stroke="#8c8c8c" stroke-width="3.7"/>
<text x="197.4" y="1388.7" font-size="47.5" textLength="113.9" lengthAdjust="spacingAndGlyphs">Itagüí</text>
<rect x="178.1" y="1487.6" width="225.1" height="63.4" rx="7" ry="7" fill="#fff" fill-opacity="0.85" stroke="#8c8c8c" stroke-width="3.7"/>
<text x="187.0" y="1531.4" font-size="47.5" textLength="204.8" lengthAdjust="spacingAndGlyphs">La Estrella</text>
<rect x="963.4" y="1559.1" width="209.3" height="63.0" rx="7" ry="7" fill="#fff" fill-opacity="0.85" stroke="#8c8c8c" stroke-width="3.7"/>
<text x="971.6" y="1602.5" font-size="47.5" textLength="192.1" lengthAdjust="spacingAndGlyphs">Envigado</text>
<rect x="857.9" y="1665.3" width="208.6" height="63.0" rx="7" ry="7" fill="#fff" fill-opacity="0.85" stroke="#8c8c8c" stroke-width="3.7"/>
<text x="867.4" y="1710.0" font-size="47.5" textLength="187.2" lengthAdjust="spacingAndGlyphs">Sabaneta</text>
<rect x="813.9" y="1807.8" width="155.6" height="63.0" rx="7" ry="7" fill="#fff" fill-opacity="0.85" stroke="#8c8c8c" stroke-width="3.7"/>
<text x="822.4" y="1851.2" font-size="47.5" textLength="138.6" lengthAdjust="spacingAndGlyphs">Caldas</text>
<rect x="170.5" y="103.35" width="1936.0" height="2086.0" fill="none" stroke="#484848" stroke-width="2.95"/>
<g stroke="#484848" stroke-width="2.95" fill="none">
<path d="M326.25,2189.35 v-15"/>
<path d="M679.60,2189.35 v-15"/>
<path d="M1032.95,2189.35 v-15"/>
<path d="M1386.30,2189.35 v-15"/>
<path d="M1739.65,2189.35 v-15"/>
<path d="M2093.00,2189.35 v-15"/>
<path d="M170.5,240.25 h15"/>
<path d="M170.5,595.64 h15"/>
<path d="M170.5,951.03 h15"/>
<path d="M170.5,1306.42 h15"/>
<path d="M170.5,1661.81 h15"/>
<path d="M170.5,2017.20 h15"/>
</g>
<text x="247.4" y="2240.2" font-size="46.5" textLength="155.3" lengthAdjust="spacingAndGlyphs">75.7° W</text>
<text x="600.7" y="2240.2" font-size="46.5" textLength="155.3" lengthAdjust="spacingAndGlyphs">75.6° W</text>
<text x="954.1" y="2240.2" font-size="46.5" textLength="155.3" lengthAdjust="spacingAndGlyphs">75.5° W</text>
<text x="1307.4" y="2240.2" font-size="46.5" textLength="155.3" lengthAdjust="spacingAndGlyphs">75.4° W</text>
<text x="1660.8" y="2240.2" font-size="46.5" textLength="155.3" lengthAdjust="spacingAndGlyphs">75.3° W</text>
<text x="2014.1" y="2240.2" font-size="46.5" textLength="155.3" lengthAdjust="spacingAndGlyphs">75.2° W</text>
<text x="28.9" y="257.1" font-size="46.5" textLength="126.0" lengthAdjust="spacingAndGlyphs">6.5° N</text>
<text x="28.9" y="612.5" font-size="46.5" textLength="126.0" lengthAdjust="spacingAndGlyphs">6.4° N</text>
<text x="28.9" y="967.9" font-size="46.5" textLength="126.0" lengthAdjust="spacingAndGlyphs">6.3° N</text>
<text x="28.9" y="1323.3" font-size="46.5" textLength="126.0" lengthAdjust="spacingAndGlyphs">6.2° N</text>
<text x="28.9" y="1678.7" font-size="46.5" textLength="126.0" lengthAdjust="spacingAndGlyphs">6.1° N</text>
<text x="28.9" y="2034.1" font-size="46.5" textLength="126.0" lengthAdjust="spacingAndGlyphs">6.0° N</text>
<text x="229.7" y="80.3" font-size="66.5" textLength="1816.7" lengthAdjust="spacingAndGlyphs">Probabilidad de ocurrencia de Movimientos en Masa (2026-02-04)</text>
<text x="190.7" y="2138.4" font-size="37" textLength="488.5" lengthAdjust="spacingAndGlyphs" style="fill:#737373">Actualizado: 04-02-2026 20:41</text>
<rect x="1645.2" y="1628.8" width="432.5" height="533.3" rx="9" ry="9" fill="#fff" stroke="#cccccc" stroke-width="3.6"/>
<text x="1703.6" y="1712.6" font-size="88" textLength="310.1" lengthAdjust="spacingAndGlyphs">Leyenda</text>
<rect x="1667.6" y="1763.0" width="106.8" height="38.0" fill="#4dc97a" stroke="#808080" stroke-width="4"/>
<text x="1819.1" y="1799.3" font-size="54.5" textLength="105.2" lengthAdjust="spacingAndGlyphs">Bajo</text>
<rect x="1667.6" y="1845.0" width="106.8" height="38.0" fill="#ffe12b" stroke="#808080" stroke-width="4"/>
<text x="1818.8" y="1882.0" font-size="54.5" textLength="156.1" lengthAdjust="spacingAndGlyphs">Medio</text>
<rect x="1667.6" y="1927.0" width="106.8" height="38.0" fill="#ff0030" stroke="#808080" stroke-width="4"/>
<text x="1820.5" y="1963.5" font-size="54.5" textLength="97.5" lengthAdjust="spacingAndGlyphs">Alto</text>
<rect x="1667.6" y="2008.5" width="106.8" height="38.0" fill="#d3d3d3" stroke="#808080" stroke-width="4"/>
<text x="1818.9" y="2045.0" font-size="54.5" textLength="236.0" lengthAdjust="spacingAndGlyphs">No Aplica</text>
<circle cx="1721.2" cy="2109" r="14.5" fill="#0000ff"/>
<text x="1820.1" y="2127.2" font-size="54.5" textLength="135.9" lengthAdjust="spacingAndGlyphs">SATC</text>
</svg></body></html>
